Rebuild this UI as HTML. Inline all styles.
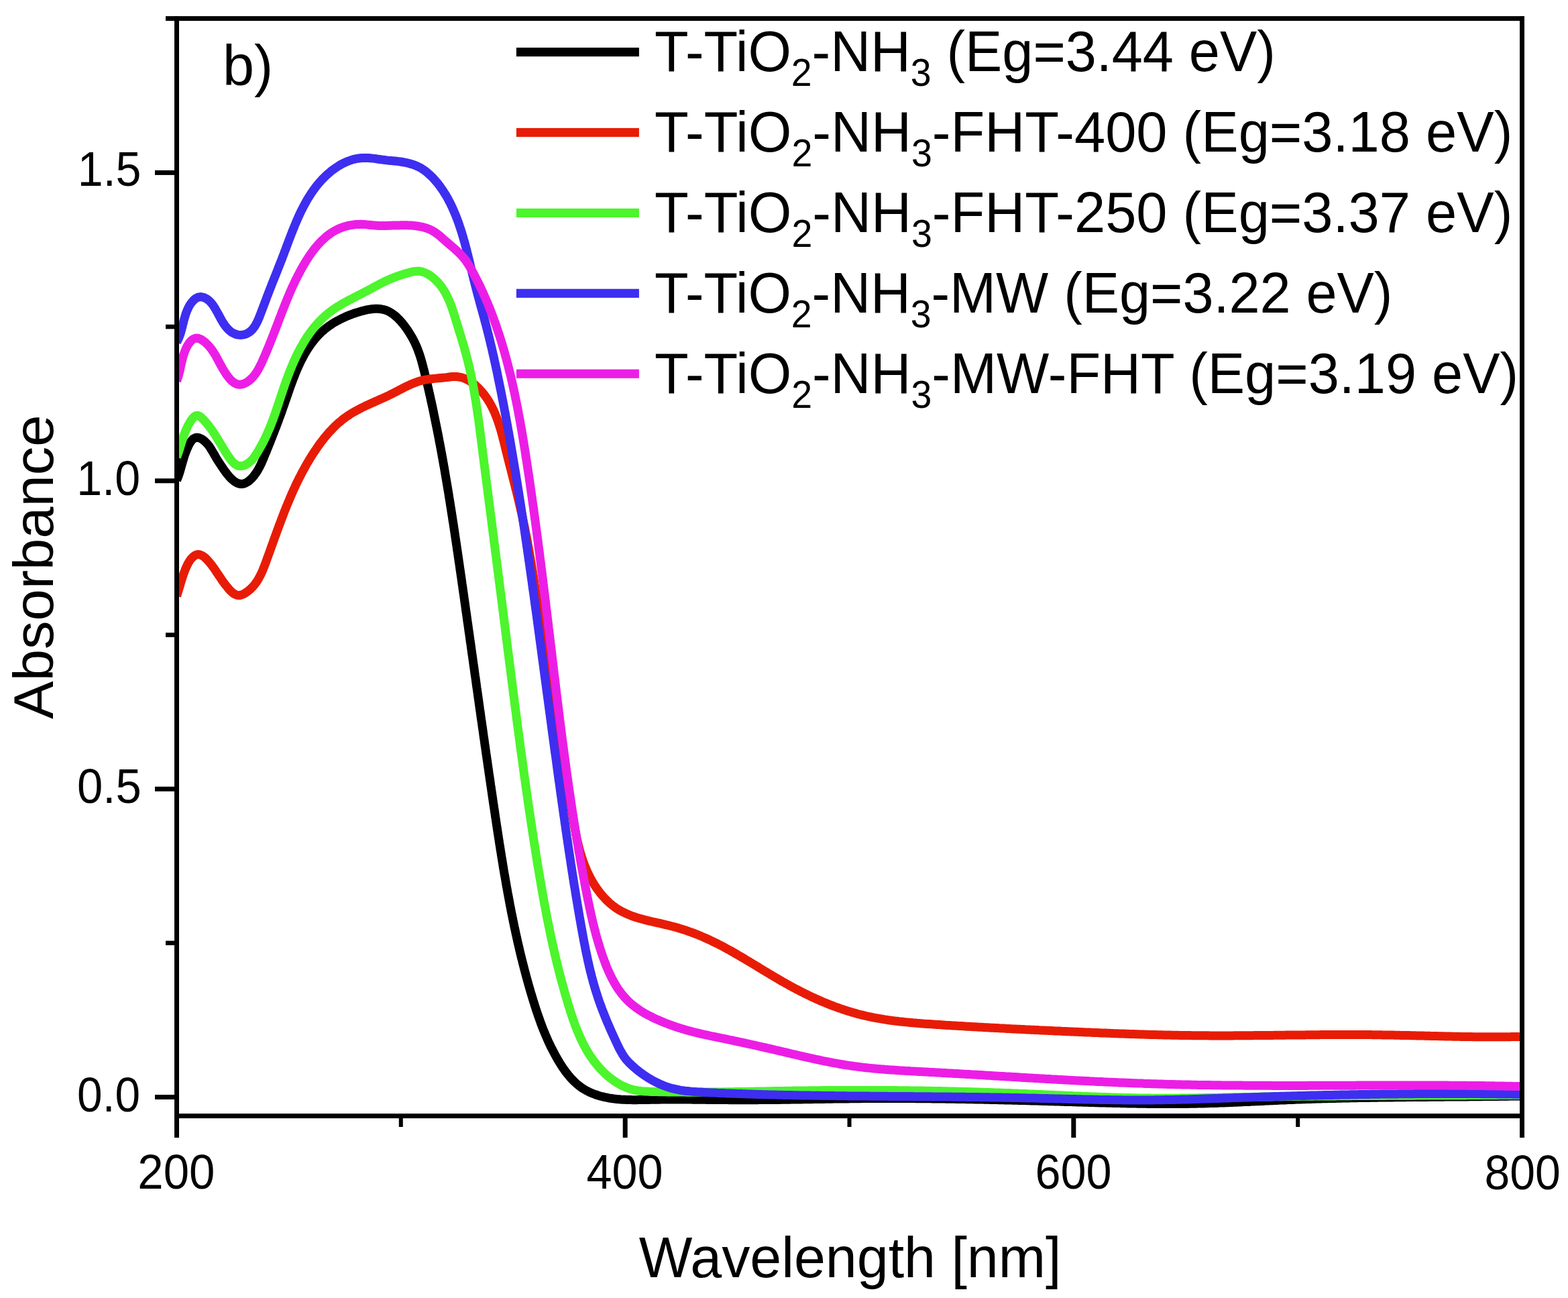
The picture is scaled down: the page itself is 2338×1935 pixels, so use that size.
<!DOCTYPE html>
<html><head><meta charset="utf-8"><title>Absorbance</title><style>
html,body{margin:0;padding:0;background:#fff;}
svg{display:block;}
text{font-family:"Liberation Sans",Arial,sans-serif;fill:#000;}
</style></head><body>
<svg width="2338" height="1935" viewBox="0 0 2338 1935">
<rect width="2338" height="1935" fill="#fff"/>
<defs><clipPath id="pc"><rect x="263.5" y="27.6" width="2006.0" height="1636.0"/></clipPath></defs>
<g clip-path="url(#pc)" fill="none" stroke-width="13" stroke-linejoin="round" stroke-linecap="butt">
<path stroke="#000000" d="M263.5,716.0 L264.7,713.2 L265.8,710.3 L266.8,707.5 L267.7,704.7 L268.6,701.8 L269.4,699.0 L270.2,696.1 L271.0,693.3 L271.8,690.5 L272.6,687.6 L273.5,684.7 L274.3,681.9 L275.2,679.0 L276.2,676.1 L277.3,673.3 L278.4,670.4 L279.7,667.5 L281.0,664.6 L282.5,661.7 L284.1,659.0 L285.9,656.6 L287.8,654.6 L290.0,653.2 L292.3,652.3 L294.8,652.3 L297.4,652.9 L300.1,654.1 L302.8,655.8 L305.3,657.8 L307.5,660.0 L309.6,662.3 L311.6,664.8 L313.4,667.4 L315.0,670.0 L316.6,672.7 L318.2,675.3 L319.7,678.0 L321.2,680.6 L322.7,683.2 L324.3,685.7 L325.8,688.1 L327.4,690.6 L329.0,693.0 L330.7,695.5 L332.3,697.9 L334.0,700.4 L335.7,702.8 L337.6,705.3 L339.5,707.7 L341.5,710.1 L343.7,712.5 L346.1,714.8 L348.5,716.8 L351.1,718.6 L353.7,720.1 L356.4,721.0 L359.0,721.5 L361.7,721.4 L364.3,720.8 L366.8,719.7 L369.3,718.3 L371.7,716.5 L374.0,714.4 L376.3,712.1 L378.4,709.6 L380.3,707.0 L382.2,704.4 L383.9,701.8 L385.4,699.1 L386.9,696.4 L388.3,693.6 L389.6,690.9 L390.8,688.1 L392.0,685.4 L393.2,682.6 L394.3,679.9 L395.4,677.1 L396.6,674.4 L397.7,671.6 L398.8,668.9 L399.9,666.2 L401.0,663.4 L402.1,660.7 L403.2,658.0 L404.3,655.2 L405.4,652.5 L406.4,649.7 L407.5,647.0 L408.6,644.3 L409.6,641.5 L410.7,638.8 L411.8,636.0 L412.8,633.3 L413.8,630.5 L414.9,627.7 L415.9,624.9 L416.9,622.1 L418.0,619.3 L419.0,616.5 L420.0,613.7 L421.0,610.9 L422.0,608.0 L423.0,605.2 L424.0,602.3 L425.0,599.4 L426.0,596.6 L427.0,593.7 L428.0,590.8 L429.0,587.9 L430.0,585.0 L431.0,582.1 L432.0,579.2 L433.0,576.3 L434.1,573.4 L435.1,570.6 L436.2,567.7 L437.3,564.8 L438.4,562.0 L439.5,559.1 L440.6,556.3 L441.8,553.5 L443.0,550.7 L444.2,547.9 L445.4,545.2 L446.7,542.4 L448.0,539.7 L449.3,537.0 L450.7,534.4 L452.1,531.7 L453.5,529.1 L455.0,526.5 L456.5,524.0 L458.0,521.5 L459.6,519.0 L461.2,516.6 L462.9,514.2 L464.6,511.8 L466.4,509.5 L468.2,507.2 L470.0,504.9 L471.9,502.7 L473.9,500.6 L475.9,498.5 L478.0,496.4 L480.1,494.4 L482.3,492.5 L484.6,490.6 L486.9,488.7 L489.3,486.9 L491.7,485.2 L494.2,483.5 L496.7,481.9 L499.3,480.3 L501.9,478.8 L504.6,477.4 L507.3,476.0 L510.1,474.6 L512.9,473.3 L515.7,472.0 L518.5,470.8 L521.4,469.7 L524.3,468.6 L527.2,467.5 L530.2,466.5 L533.1,465.6 L536.1,464.7 L539.1,463.8 L542.0,463.1 L545.0,462.3 L548.0,461.7 L551.0,461.2 L554.0,460.8 L556.9,460.5 L559.8,460.3 L562.7,460.3 L565.5,460.5 L568.4,460.8 L571.1,461.3 L573.8,462.0 L576.5,462.9 L579.1,464.1 L581.6,465.4 L584.1,467.0 L586.5,468.7 L588.9,470.5 L591.2,472.5 L593.4,474.6 L595.6,476.8 L597.7,479.1 L599.7,481.5 L601.7,483.9 L603.6,486.4 L605.5,489.0 L607.3,491.5 L609.0,494.1 L610.6,496.7 L612.2,499.2 L613.8,501.8 L615.2,504.4 L616.6,507.0 L617.9,509.6 L619.2,512.3 L620.4,515.0 L621.6,517.7 L622.7,520.4 L623.7,523.2 L624.7,526.0 L625.7,528.8 L626.6,531.6 L627.5,534.5 L628.3,537.3 L629.1,540.2 L629.9,543.1 L630.7,546.0 L631.4,548.9 L632.2,551.8 L632.9,554.7 L633.6,557.7 L634.3,560.6 L635.0,563.5 L635.7,566.4 L636.4,569.4 L637.1,572.3 L637.8,575.2 L638.4,578.1 L639.1,581.1 L639.8,584.0 L640.4,586.9 L641.1,589.8 L641.8,592.8 L642.4,595.7 L643.0,598.6 L643.7,601.6 L644.3,604.5 L645.0,607.5 L645.6,610.4 L646.2,613.3 L646.8,616.3 L647.4,619.2 L648.0,622.1 L648.6,625.1 L649.2,628.0 L649.8,631.0 L650.4,633.9 L651.0,636.8 L651.6,639.8 L652.2,642.7 L652.8,645.7 L653.3,648.6 L653.9,651.6 L654.5,654.5 L655.0,657.5 L655.6,660.4 L656.2,663.4 L656.7,666.3 L657.3,669.3 L657.8,672.2 L658.4,675.2 L658.9,678.1 L659.4,681.1 L660.0,684.0 L660.5,687.0 L661.0,689.9 L661.5,692.9 L662.1,695.8 L662.6,698.8 L663.1,701.7 L663.6,704.7 L664.1,707.7 L664.6,710.6 L665.1,713.6 L665.6,716.5 L666.1,719.5 L666.6,722.4 L667.1,725.4 L667.6,728.4 L668.1,731.3 L668.6,734.3 L669.1,737.2 L669.5,740.2 L670.0,743.2 L670.5,746.1 L671.0,749.1 L671.4,752.1 L671.9,755.0 L672.4,758.0 L672.8,760.9 L673.3,763.9 L673.8,766.9 L674.2,769.8 L674.7,772.8 L675.1,775.8 L675.6,778.7 L676.1,781.7 L676.5,784.7 L677.0,787.6 L677.4,790.6 L677.9,793.6 L678.3,796.5 L678.7,799.5 L679.2,802.5 L679.6,805.4 L680.1,808.4 L680.5,811.4 L681.0,814.3 L681.4,817.3 L681.8,820.3 L682.3,823.2 L682.7,826.2 L683.1,829.2 L683.6,832.1 L684.0,835.1 L684.4,838.1 L684.9,841.0 L685.3,844.0 L685.7,847.0 L686.1,849.9 L686.6,852.9 L687.0,855.9 L687.4,858.8 L687.9,861.8 L688.3,864.8 L688.7,867.7 L689.1,870.7 L689.6,873.7 L690.0,876.6 L690.4,879.6 L690.8,882.6 L691.3,885.5 L691.7,888.5 L692.1,891.5 L692.5,894.4 L692.9,897.4 L693.4,900.4 L693.8,903.4 L694.2,906.3 L694.6,909.3 L695.0,912.3 L695.5,915.2 L695.9,918.2 L696.3,921.2 L696.7,924.1 L697.1,927.1 L697.6,930.1 L698.0,933.0 L698.4,936.0 L698.8,939.0 L699.2,941.9 L699.7,944.9 L700.1,947.9 L700.5,950.8 L700.9,953.8 L701.3,956.8 L701.8,959.7 L702.2,962.7 L702.6,965.7 L703.0,968.6 L703.4,971.6 L703.8,974.6 L704.3,977.6 L704.7,980.5 L705.1,983.5 L705.5,986.5 L705.9,989.4 L706.3,992.4 L706.8,995.4 L707.2,998.3 L707.6,1001.3 L708.0,1004.3 L708.4,1007.2 L708.9,1010.2 L709.3,1013.2 L709.7,1016.1 L710.1,1019.1 L710.5,1022.1 L710.9,1025.0 L711.4,1028.0 L711.8,1031.0 L712.2,1033.9 L712.6,1036.9 L713.0,1039.9 L713.5,1042.9 L713.9,1045.8 L714.3,1048.8 L714.7,1051.8 L715.1,1054.7 L715.5,1057.7 L716.0,1060.7 L716.4,1063.6 L716.8,1066.6 L717.2,1069.6 L717.6,1072.5 L718.1,1075.5 L718.5,1078.5 L718.9,1081.4 L719.3,1084.4 L719.8,1087.4 L720.2,1090.4 L720.6,1093.3 L721.0,1096.3 L721.4,1099.3 L721.9,1102.2 L722.3,1105.2 L722.7,1108.2 L723.1,1111.1 L723.6,1114.1 L724.0,1117.1 L724.4,1120.1 L724.8,1123.0 L725.3,1126.0 L725.7,1129.0 L726.1,1131.9 L726.6,1134.9 L727.0,1137.9 L727.4,1140.8 L727.8,1143.8 L728.3,1146.8 L728.7,1149.7 L729.1,1152.7 L729.6,1155.7 L730.0,1158.7 L730.4,1161.6 L730.9,1164.6 L731.3,1167.6 L731.7,1170.5 L732.2,1173.5 L732.6,1176.5 L733.0,1179.5 L733.5,1182.4 L733.9,1185.4 L734.3,1188.4 L734.8,1191.3 L735.2,1194.3 L735.6,1197.3 L736.1,1200.2 L736.5,1203.2 L737.0,1206.2 L737.4,1209.2 L737.9,1212.1 L738.3,1215.1 L738.7,1218.1 L739.2,1221.0 L739.6,1224.0 L740.1,1227.0 L740.5,1230.0 L741.0,1232.9 L741.4,1235.9 L741.9,1238.9 L742.3,1241.8 L742.8,1244.8 L743.2,1247.8 L743.7,1250.8 L744.2,1253.7 L744.6,1256.7 L745.1,1259.7 L745.6,1262.6 L746.0,1265.6 L746.5,1268.6 L747.0,1271.5 L747.4,1274.5 L747.9,1277.5 L748.4,1280.4 L748.9,1283.4 L749.4,1286.4 L749.9,1289.3 L750.3,1292.3 L750.8,1295.2 L751.3,1298.2 L751.8,1301.2 L752.3,1304.1 L752.9,1307.1 L753.4,1310.0 L753.9,1313.0 L754.4,1316.0 L754.9,1318.9 L755.4,1321.9 L756.0,1324.8 L756.5,1327.8 L757.0,1330.7 L757.6,1333.7 L758.1,1336.6 L758.7,1339.6 L759.2,1342.5 L759.8,1345.5 L760.3,1348.4 L760.9,1351.4 L761.5,1354.3 L762.0,1357.3 L762.6,1360.2 L763.2,1363.1 L763.8,1366.1 L764.4,1369.0 L765.0,1372.0 L765.6,1374.9 L766.2,1377.8 L766.8,1380.8 L767.4,1383.7 L768.1,1386.6 L768.7,1389.5 L769.3,1392.5 L770.0,1395.4 L770.6,1398.3 L771.3,1401.2 L771.9,1404.2 L772.6,1407.1 L773.3,1410.0 L774.0,1412.9 L774.6,1415.8 L775.3,1418.7 L776.0,1421.6 L776.7,1424.6 L777.4,1427.5 L778.2,1430.4 L778.9,1433.3 L779.6,1436.2 L780.4,1439.1 L781.1,1442.0 L781.9,1444.9 L782.6,1447.8 L783.4,1450.6 L784.1,1453.5 L784.9,1456.4 L785.7,1459.3 L786.5,1462.2 L787.3,1465.1 L788.1,1468.0 L788.9,1470.8 L789.8,1473.7 L790.6,1476.6 L791.4,1479.4 L792.3,1482.3 L793.2,1485.2 L794.0,1488.0 L794.9,1490.9 L795.8,1493.8 L796.7,1496.6 L797.6,1499.5 L798.5,1502.3 L799.4,1505.2 L800.4,1508.0 L801.3,1510.8 L802.3,1513.7 L803.3,1516.5 L804.3,1519.3 L805.3,1522.1 L806.3,1525.0 L807.4,1527.8 L808.4,1530.6 L809.5,1533.4 L810.6,1536.1 L811.8,1538.9 L812.9,1541.7 L814.1,1544.5 L815.3,1547.2 L816.5,1550.0 L817.7,1552.7 L819.0,1555.4 L820.3,1558.1 L821.6,1560.9 L823.0,1563.6 L824.4,1566.3 L825.8,1568.9 L827.2,1571.6 L828.7,1574.3 L830.1,1576.9 L831.7,1579.6 L833.2,1582.2 L834.8,1584.8 L836.4,1587.4 L838.1,1590.0 L839.8,1592.5 L841.6,1595.0 L843.3,1597.5 L845.2,1599.9 L847.1,1602.3 L849.0,1604.6 L851.0,1606.9 L853.0,1609.1 L855.1,1611.3 L857.2,1613.3 L859.4,1615.3 L861.6,1617.2 L864.0,1619.1 L866.3,1620.8 L868.8,1622.5 L871.3,1624.0 L873.8,1625.5 L876.4,1626.9 L879.1,1628.2 L881.8,1629.4 L884.6,1630.5 L887.3,1631.5 L890.2,1632.5 L893.0,1633.4 L895.9,1634.2 L898.8,1634.9 L901.7,1635.6 L904.7,1636.2 L907.6,1636.8 L910.5,1637.3 L913.5,1637.7 L916.5,1638.1 L919.4,1638.5 L922.4,1638.7 L925.4,1639.0 L928.4,1639.2 L931.4,1639.3 L934.4,1639.5 L937.4,1639.6 L940.4,1639.6 L943.4,1639.7 L946.4,1639.7 L949.4,1639.7 L952.4,1639.6 L955.4,1639.6 L958.4,1639.6 L961.4,1639.5 L964.4,1639.5 L967.5,1639.4 L970.5,1639.3 L973.5,1639.3 L976.5,1639.2 L979.5,1639.2 L982.5,1639.2 L985.5,1639.1 L988.5,1639.1 L991.5,1639.1 L994.5,1639.1 L997.5,1639.1 L1000.6,1639.0 L1003.6,1639.0 L1006.6,1639.0 L1009.6,1639.0 L1012.6,1639.0 L1015.6,1639.1 L1018.6,1639.1 L1021.6,1639.1 L1024.6,1639.1 L1027.6,1639.1 L1030.6,1639.1 L1033.6,1639.2 L1036.6,1639.2 L1039.6,1639.2 L1042.6,1639.2 L1045.5,1639.3 L1048.5,1639.3 L1051.5,1639.3 L1054.5,1639.4 L1057.5,1639.4 L1060.5,1639.4 L1063.5,1639.4 L1066.5,1639.5 L1069.5,1639.5 L1072.5,1639.5 L1075.5,1639.6 L1078.5,1639.6 L1081.5,1639.6 L1084.5,1639.6 L1087.5,1639.7 L1090.5,1639.7 L1093.5,1639.7 L1096.5,1639.7 L1099.5,1639.7 L1102.5,1639.7 L1105.5,1639.7 L1108.5,1639.7 L1111.5,1639.7 L1114.4,1639.7 L1117.4,1639.7 L1120.4,1639.7 L1123.4,1639.7 L1126.4,1639.7 L1129.4,1639.7 L1132.4,1639.6 L1135.4,1639.6 L1138.4,1639.6 L1141.4,1639.6 L1144.4,1639.5 L1147.4,1639.5 L1150.4,1639.5 L1153.4,1639.5 L1156.4,1639.4 L1159.4,1639.4 L1162.4,1639.4 L1165.4,1639.3 L1168.4,1639.3 L1171.4,1639.2 L1174.4,1639.2 L1177.4,1639.2 L1180.4,1639.1 L1183.4,1639.1 L1186.4,1639.0 L1189.4,1639.0 L1192.4,1638.9 L1195.4,1638.9 L1198.4,1638.8 L1201.4,1638.8 L1204.4,1638.7 L1207.4,1638.7 L1210.4,1638.7 L1213.4,1638.6 L1216.4,1638.6 L1219.4,1638.5 L1222.4,1638.5 L1225.4,1638.4 L1228.4,1638.4 L1231.4,1638.3 L1234.4,1638.3 L1237.4,1638.2 L1240.4,1638.2 L1243.4,1638.1 L1246.4,1638.1 L1249.4,1638.1 L1252.4,1638.0 L1255.4,1638.0 L1258.4,1637.9 L1261.4,1637.9 L1264.4,1637.9 L1267.4,1637.8 L1270.4,1637.8 L1273.4,1637.8 L1276.4,1637.7 L1279.4,1637.7 L1282.4,1637.7 L1285.4,1637.6 L1288.4,1637.6 L1291.4,1637.6 L1294.4,1637.6 L1297.4,1637.6 L1300.4,1637.5 L1303.4,1637.5 L1306.4,1637.5 L1309.4,1637.5 L1312.4,1637.5 L1315.4,1637.5 L1318.4,1637.5 L1321.4,1637.5 L1324.4,1637.5 L1327.4,1637.5 L1330.4,1637.5 L1333.4,1637.5 L1336.4,1637.5 L1339.4,1637.5 L1342.4,1637.5 L1345.4,1637.5 L1348.4,1637.5 L1351.4,1637.6 L1354.4,1637.6 L1357.4,1637.6 L1360.4,1637.6 L1363.4,1637.6 L1366.4,1637.7 L1369.4,1637.7 L1372.4,1637.7 L1375.4,1637.7 L1378.4,1637.8 L1381.4,1637.8 L1384.4,1637.8 L1387.4,1637.8 L1390.4,1637.9 L1393.4,1637.9 L1396.4,1638.0 L1399.4,1638.0 L1402.4,1638.0 L1405.4,1638.1 L1408.4,1638.1 L1411.4,1638.2 L1414.4,1638.2 L1417.4,1638.2 L1420.4,1638.3 L1423.4,1638.3 L1426.4,1638.4 L1429.4,1638.4 L1432.4,1638.5 L1435.4,1638.5 L1438.4,1638.6 L1441.4,1638.7 L1444.4,1638.7 L1447.4,1638.8 L1450.4,1638.8 L1453.4,1638.9 L1456.4,1638.9 L1459.4,1639.0 L1462.4,1639.1 L1465.4,1639.1 L1468.4,1639.2 L1471.4,1639.3 L1474.4,1639.3 L1477.4,1639.4 L1480.4,1639.5 L1483.4,1639.5 L1486.4,1639.6 L1489.4,1639.7 L1492.4,1639.7 L1495.4,1639.8 L1498.4,1639.9 L1501.4,1640.0 L1504.4,1640.0 L1507.4,1640.1 L1510.4,1640.2 L1513.4,1640.3 L1516.4,1640.3 L1519.4,1640.4 L1522.4,1640.5 L1525.4,1640.6 L1528.4,1640.6 L1531.4,1640.7 L1534.4,1640.8 L1537.4,1640.9 L1540.4,1641.0 L1543.3,1641.1 L1546.3,1641.1 L1549.3,1641.2 L1552.3,1641.3 L1555.3,1641.4 L1558.3,1641.5 L1561.3,1641.6 L1564.3,1641.7 L1567.3,1641.7 L1570.3,1641.8 L1573.3,1641.9 L1576.3,1642.0 L1579.3,1642.1 L1582.3,1642.2 L1585.3,1642.3 L1588.3,1642.4 L1591.3,1642.4 L1594.3,1642.5 L1597.3,1642.6 L1600.3,1642.7 L1603.3,1642.8 L1606.3,1642.9 L1609.3,1643.0 L1612.3,1643.1 L1615.3,1643.2 L1618.3,1643.2 L1621.3,1643.3 L1624.3,1643.4 L1627.3,1643.5 L1630.3,1643.6 L1633.3,1643.7 L1636.3,1643.8 L1639.3,1643.9 L1642.3,1643.9 L1645.3,1644.0 L1648.3,1644.1 L1651.3,1644.2 L1654.3,1644.3 L1657.3,1644.3 L1660.3,1644.4 L1663.3,1644.5 L1666.3,1644.6 L1669.3,1644.6 L1672.3,1644.7 L1675.3,1644.8 L1678.3,1644.8 L1681.3,1644.9 L1684.3,1644.9 L1687.3,1645.0 L1690.3,1645.1 L1693.3,1645.1 L1696.3,1645.2 L1699.3,1645.2 L1702.3,1645.3 L1705.3,1645.3 L1708.3,1645.3 L1711.3,1645.4 L1714.3,1645.4 L1717.3,1645.4 L1720.3,1645.5 L1723.3,1645.5 L1726.3,1645.5 L1729.3,1645.5 L1732.3,1645.5 L1735.3,1645.6 L1738.2,1645.6 L1741.2,1645.6 L1744.2,1645.6 L1747.2,1645.6 L1750.2,1645.6 L1753.2,1645.5 L1756.2,1645.5 L1759.2,1645.5 L1762.2,1645.5 L1765.2,1645.5 L1768.2,1645.4 L1771.2,1645.4 L1774.2,1645.3 L1777.2,1645.3 L1780.2,1645.2 L1783.2,1645.2 L1786.2,1645.1 L1789.2,1645.0 L1792.2,1645.0 L1795.2,1644.9 L1798.2,1644.8 L1801.2,1644.7 L1804.2,1644.6 L1807.2,1644.5 L1810.2,1644.5 L1813.2,1644.4 L1816.2,1644.2 L1819.2,1644.1 L1822.2,1644.0 L1825.2,1643.9 L1828.2,1643.8 L1831.2,1643.7 L1834.2,1643.6 L1837.2,1643.4 L1840.2,1643.3 L1843.2,1643.2 L1846.2,1643.0 L1849.2,1642.9 L1852.2,1642.8 L1855.2,1642.6 L1858.2,1642.5 L1861.2,1642.4 L1864.2,1642.2 L1867.2,1642.1 L1870.2,1641.9 L1873.2,1641.8 L1876.2,1641.7 L1879.2,1641.5 L1882.1,1641.4 L1885.1,1641.2 L1888.1,1641.1 L1891.1,1641.0 L1894.1,1640.8 L1897.1,1640.7 L1900.1,1640.5 L1903.1,1640.4 L1906.1,1640.3 L1909.1,1640.1 L1912.1,1640.0 L1915.1,1639.9 L1918.1,1639.7 L1921.1,1639.6 L1924.1,1639.5 L1927.1,1639.4 L1930.1,1639.3 L1933.1,1639.1 L1936.1,1639.0 L1939.1,1638.9 L1942.1,1638.8 L1945.1,1638.7 L1948.1,1638.6 L1951.1,1638.5 L1954.1,1638.4 L1957.1,1638.3 L1960.1,1638.2 L1963.1,1638.1 L1966.1,1638.0 L1969.1,1637.9 L1972.1,1637.8 L1975.1,1637.8 L1978.1,1637.7 L1981.1,1637.6 L1984.1,1637.5 L1987.1,1637.4 L1990.1,1637.4 L1993.1,1637.3 L1996.1,1637.2 L1999.1,1637.2 L2002.1,1637.1 L2005.1,1637.0 L2008.1,1637.0 L2011.1,1636.9 L2014.1,1636.8 L2017.1,1636.8 L2020.1,1636.7 L2023.1,1636.7 L2026.1,1636.6 L2029.1,1636.6 L2032.1,1636.5 L2035.1,1636.5 L2038.1,1636.4 L2041.1,1636.4 L2044.1,1636.3 L2047.1,1636.3 L2050.1,1636.2 L2053.1,1636.2 L2056.1,1636.1 L2059.0,1636.1 L2062.0,1636.1 L2065.0,1636.0 L2068.0,1636.0 L2071.0,1635.9 L2074.0,1635.9 L2077.0,1635.9 L2080.0,1635.8 L2083.0,1635.8 L2086.0,1635.8 L2089.0,1635.7 L2092.0,1635.7 L2095.0,1635.7 L2098.0,1635.6 L2101.0,1635.6 L2104.0,1635.6 L2107.0,1635.6 L2110.0,1635.5 L2113.0,1635.5 L2116.0,1635.5 L2119.0,1635.4 L2122.0,1635.4 L2125.0,1635.4 L2128.0,1635.4 L2131.0,1635.3 L2134.0,1635.3 L2137.0,1635.3 L2140.0,1635.3 L2143.0,1635.2 L2146.0,1635.2 L2149.0,1635.2 L2152.0,1635.2 L2155.0,1635.1 L2158.0,1635.1 L2161.0,1635.1 L2164.0,1635.1 L2167.0,1635.0 L2170.0,1635.0 L2173.0,1635.0 L2176.0,1635.0 L2179.0,1634.9 L2182.0,1634.9 L2185.0,1634.9 L2188.0,1634.9 L2191.0,1634.8 L2194.0,1634.8 L2197.0,1634.8 L2200.0,1634.7 L2203.0,1634.7 L2206.0,1634.7 L2209.0,1634.7 L2212.0,1634.6 L2215.0,1634.6 L2218.0,1634.6 L2221.0,1634.5 L2224.0,1634.5 L2227.0,1634.5 L2230.0,1634.4 L2233.0,1634.4 L2236.0,1634.3 L2239.0,1634.3 L2242.0,1634.3 L2245.0,1634.2 L2248.0,1634.2 L2251.0,1634.1 L2254.0,1634.1 L2257.0,1634.0 L2260.0,1634.0 L2263.0,1634.0 L2266.0,1633.9"/>
<path stroke="#E81C06" d="M263.5,888.5 L264.5,885.5 L265.4,882.5 L266.3,879.6 L267.1,876.8 L268.0,874.0 L268.8,871.2 L269.6,868.4 L270.4,865.7 L271.3,862.9 L272.2,860.2 L273.1,857.4 L274.1,854.6 L275.2,851.7 L276.3,848.8 L277.6,845.9 L278.9,842.9 L280.4,840.0 L282.0,837.3 L283.7,834.7 L285.6,832.4 L287.6,830.3 L289.8,828.6 L292.3,827.3 L294.8,826.6 L297.4,826.8 L300.0,827.6 L302.6,829.0 L305.1,830.8 L307.4,832.9 L309.6,835.2 L311.7,837.6 L313.6,839.9 L315.5,842.3 L317.3,844.7 L319.0,847.1 L320.7,849.5 L322.3,851.9 L323.9,854.3 L325.5,856.7 L327.1,859.1 L328.8,861.5 L330.4,864.0 L332.1,866.4 L333.9,868.9 L335.7,871.3 L337.7,873.8 L339.7,876.3 L341.8,878.8 L344.1,881.1 L346.4,883.3 L348.8,885.1 L351.4,886.4 L354.0,887.3 L356.7,887.5 L359.5,887.0 L362.2,886.0 L365.0,884.5 L367.6,882.8 L370.1,881.0 L372.4,879.1 L374.6,877.1 L376.6,875.0 L378.6,872.7 L380.4,870.4 L382.1,868.1 L383.8,865.6 L385.3,863.1 L386.7,860.5 L388.1,857.9 L389.4,855.2 L390.7,852.5 L391.9,849.7 L393.0,846.9 L394.1,844.1 L395.2,841.3 L396.3,838.4 L397.3,835.6 L398.3,832.7 L399.4,829.9 L400.4,827.0 L401.4,824.2 L402.5,821.3 L403.5,818.5 L404.5,815.6 L405.5,812.8 L406.6,809.9 L407.6,807.1 L408.6,804.3 L409.6,801.4 L410.7,798.6 L411.7,795.8 L412.7,793.0 L413.7,790.1 L414.8,787.3 L415.8,784.5 L416.9,781.7 L417.9,778.9 L419.0,776.1 L420.0,773.3 L421.1,770.5 L422.2,767.7 L423.2,764.9 L424.3,762.1 L425.4,759.4 L426.5,756.6 L427.7,753.8 L428.8,751.1 L429.9,748.3 L431.1,745.6 L432.2,742.8 L433.4,740.1 L434.6,737.4 L435.8,734.6 L437.0,731.9 L438.2,729.2 L439.5,726.5 L440.7,723.8 L442.0,721.1 L443.3,718.4 L444.6,715.8 L445.9,713.1 L447.3,710.4 L448.7,707.8 L450.0,705.1 L451.4,702.5 L452.9,699.9 L454.3,697.3 L455.8,694.6 L457.2,692.0 L458.7,689.5 L460.3,686.9 L461.8,684.3 L463.4,681.7 L465.0,679.2 L466.6,676.6 L468.3,674.1 L470.0,671.6 L471.7,669.1 L473.4,666.6 L475.1,664.1 L476.9,661.6 L478.7,659.2 L480.6,656.8 L482.4,654.4 L484.3,652.0 L486.3,649.7 L488.2,647.4 L490.2,645.1 L492.2,642.9 L494.3,640.7 L496.4,638.5 L498.5,636.4 L500.6,634.3 L502.8,632.3 L505.0,630.3 L507.3,628.4 L509.6,626.5 L511.9,624.6 L514.3,622.9 L516.7,621.1 L519.1,619.5 L521.6,617.8 L524.1,616.3 L526.6,614.8 L529.2,613.3 L531.7,611.9 L534.4,610.5 L537.0,609.1 L539.6,607.8 L542.3,606.5 L545.0,605.2 L547.7,603.9 L550.4,602.7 L553.2,601.4 L555.9,600.2 L558.6,599.0 L561.4,597.8 L564.1,596.5 L566.9,595.3 L569.6,594.1 L572.4,592.8 L575.1,591.6 L577.9,590.3 L580.6,589.0 L583.3,587.7 L586.0,586.3 L588.7,584.9 L591.4,583.6 L594.1,582.1 L596.8,580.7 L599.4,579.4 L602.1,578.0 L604.8,576.6 L607.5,575.3 L610.2,574.1 L612.9,572.8 L615.6,571.7 L618.4,570.6 L621.2,569.6 L624.0,568.6 L626.8,567.8 L629.7,567.1 L632.5,566.4 L635.5,565.9 L638.4,565.4 L641.4,565.0 L644.4,564.7 L647.4,564.4 L650.4,564.1 L653.4,563.8 L656.5,563.5 L659.5,563.2 L662.6,562.9 L665.6,562.6 L668.7,562.2 L671.7,561.8 L674.7,561.6 L677.7,561.5 L680.7,561.5 L683.6,561.8 L686.4,562.3 L689.3,563.0 L692.0,564.0 L694.7,565.1 L697.4,566.4 L700.0,567.9 L702.5,569.5 L705.0,571.2 L707.4,573.1 L709.8,575.1 L712.0,577.2 L714.2,579.3 L716.3,581.6 L718.4,583.9 L720.3,586.2 L722.2,588.6 L724.0,591.0 L725.7,593.4 L727.4,595.9 L729.0,598.5 L730.5,601.0 L731.9,603.6 L733.3,606.2 L734.6,608.9 L735.9,611.5 L737.1,614.2 L738.3,617.0 L739.4,619.7 L740.5,622.5 L741.5,625.3 L742.5,628.1 L743.5,630.9 L744.4,633.7 L745.3,636.6 L746.2,639.5 L747.0,642.3 L747.8,645.2 L748.6,648.1 L749.4,651.0 L750.1,654.0 L750.9,656.9 L751.6,659.8 L752.3,662.7 L753.1,665.7 L753.8,668.6 L754.5,671.5 L755.2,674.4 L756.0,677.4 L756.7,680.3 L757.4,683.2 L758.2,686.1 L758.9,689.0 L759.6,691.9 L760.4,694.8 L761.1,697.7 L761.9,700.6 L762.6,703.6 L763.4,706.5 L764.1,709.4 L764.8,712.3 L765.6,715.1 L766.3,718.0 L767.1,720.9 L767.8,723.8 L768.5,726.7 L769.2,729.6 L770.0,732.5 L770.7,735.4 L771.4,738.3 L772.1,741.2 L772.8,744.1 L773.5,747.0 L774.2,749.9 L774.9,752.9 L775.6,755.8 L776.2,758.7 L776.9,761.6 L777.6,764.5 L778.2,767.4 L778.9,770.3 L779.5,773.2 L780.1,776.2 L780.7,779.1 L781.4,782.0 L782.0,785.0 L782.6,787.9 L783.1,790.8 L783.7,793.7 L784.3,796.7 L784.9,799.6 L785.5,802.6 L786.0,805.5 L786.6,808.4 L787.1,811.4 L787.7,814.3 L788.2,817.3 L788.7,820.2 L789.3,823.2 L789.8,826.1 L790.3,829.1 L790.8,832.0 L791.3,835.0 L791.8,838.0 L792.3,840.9 L792.8,843.9 L793.3,846.8 L793.8,849.8 L794.3,852.7 L794.7,855.7 L795.2,858.7 L795.7,861.6 L796.1,864.6 L796.6,867.6 L797.0,870.5 L797.5,873.5 L798.0,876.5 L798.4,879.4 L798.8,882.4 L799.3,885.4 L799.7,888.4 L800.2,891.3 L800.6,894.3 L801.0,897.3 L801.5,900.2 L801.9,903.2 L802.3,906.2 L802.7,909.2 L803.1,912.1 L803.6,915.1 L804.0,918.1 L804.4,921.1 L804.8,924.0 L805.2,927.0 L805.6,930.0 L806.1,932.9 L806.5,935.9 L806.9,938.9 L807.3,941.9 L807.7,944.8 L808.1,947.8 L808.5,950.8 L808.9,953.7 L809.3,956.7 L809.7,959.7 L810.1,962.7 L810.6,965.6 L811.0,968.6 L811.4,971.6 L811.8,974.5 L812.2,977.5 L812.6,980.5 L813.0,983.5 L813.4,986.4 L813.8,989.4 L814.3,992.4 L814.7,995.3 L815.1,998.3 L815.5,1001.3 L815.9,1004.2 L816.4,1007.2 L816.8,1010.2 L817.2,1013.1 L817.6,1016.1 L818.1,1019.0 L818.5,1022.0 L818.9,1025.0 L819.4,1027.9 L819.8,1030.9 L820.3,1033.9 L820.7,1036.8 L821.2,1039.8 L821.6,1042.7 L822.1,1045.7 L822.5,1048.7 L823.0,1051.6 L823.5,1054.6 L823.9,1057.5 L824.4,1060.5 L824.9,1063.4 L825.4,1066.4 L825.9,1069.3 L826.4,1072.3 L826.9,1075.2 L827.4,1078.2 L827.9,1081.1 L828.4,1084.1 L828.9,1087.0 L829.4,1090.0 L829.9,1092.9 L830.5,1095.9 L831.0,1098.8 L831.5,1101.8 L832.1,1104.7 L832.6,1107.6 L833.2,1110.6 L833.8,1113.5 L834.3,1116.5 L834.9,1119.4 L835.5,1122.3 L836.1,1125.3 L836.7,1128.2 L837.3,1131.1 L837.9,1134.1 L838.5,1137.0 L839.1,1139.9 L839.7,1142.9 L840.3,1145.8 L841.0,1148.7 L841.6,1151.6 L842.2,1154.6 L842.8,1157.5 L843.5,1160.4 L844.1,1163.4 L844.7,1166.3 L845.3,1169.2 L845.9,1172.2 L846.5,1175.1 L847.1,1178.0 L847.7,1181.0 L848.3,1183.9 L848.8,1186.9 L849.4,1189.8 L849.9,1192.7 L850.5,1195.7 L851.0,1198.6 L851.5,1201.6 L852.0,1204.5 L852.5,1207.5 L853.0,1210.5 L853.5,1213.4 L854.0,1216.4 L854.4,1219.3 L854.9,1222.3 L855.4,1225.2 L855.9,1228.2 L856.4,1231.1 L857.0,1234.1 L857.5,1237.0 L858.1,1240.0 L858.6,1242.9 L859.2,1245.8 L859.8,1248.8 L860.4,1251.7 L861.1,1254.6 L861.8,1257.5 L862.5,1260.4 L863.2,1263.3 L864.0,1266.2 L864.8,1269.1 L865.6,1272.0 L866.5,1274.8 L867.3,1277.7 L868.3,1280.5 L869.3,1283.4 L870.3,1286.2 L871.3,1289.0 L872.4,1291.8 L873.6,1294.6 L874.8,1297.3 L876.0,1300.1 L877.3,1302.8 L878.6,1305.6 L880.0,1308.3 L881.5,1310.9 L883.0,1313.6 L884.5,1316.2 L886.1,1318.8 L887.8,1321.3 L889.5,1323.9 L891.2,1326.3 L893.0,1328.8 L894.8,1331.2 L896.7,1333.5 L898.7,1335.8 L900.7,1338.0 L902.7,1340.2 L904.8,1342.3 L906.9,1344.3 L909.1,1346.3 L911.3,1348.2 L913.6,1350.0 L916.0,1351.8 L918.3,1353.5 L920.8,1355.1 L923.3,1356.6 L925.8,1358.1 L928.3,1359.4 L931.0,1360.7 L933.6,1361.9 L936.3,1363.1 L939.0,1364.2 L941.8,1365.3 L944.6,1366.3 L947.4,1367.2 L950.2,1368.1 L953.1,1369.0 L956.0,1369.8 L958.9,1370.6 L961.8,1371.4 L964.7,1372.1 L967.7,1372.8 L970.7,1373.5 L973.6,1374.2 L976.6,1374.9 L979.6,1375.6 L982.6,1376.2 L985.6,1376.9 L988.6,1377.6 L991.6,1378.3 L994.5,1379.0 L997.5,1379.7 L1000.5,1380.5 L1003.4,1381.2 L1006.4,1382.0 L1009.3,1382.8 L1012.2,1383.7 L1015.1,1384.6 L1018.0,1385.5 L1020.8,1386.4 L1023.7,1387.3 L1026.5,1388.3 L1029.3,1389.3 L1032.2,1390.4 L1035.0,1391.4 L1037.8,1392.5 L1040.5,1393.6 L1043.3,1394.7 L1046.1,1395.9 L1048.8,1397.1 L1051.5,1398.3 L1054.3,1399.5 L1057.0,1400.7 L1059.7,1402.0 L1062.4,1403.3 L1065.0,1404.6 L1067.7,1405.9 L1070.4,1407.2 L1073.0,1408.6 L1075.7,1409.9 L1078.3,1411.3 L1080.9,1412.7 L1083.6,1414.2 L1086.2,1415.6 L1088.8,1417.0 L1091.4,1418.5 L1094.0,1420.0 L1096.6,1421.5 L1099.2,1423.0 L1101.7,1424.5 L1104.3,1426.0 L1106.9,1427.5 L1109.5,1429.0 L1112.0,1430.6 L1114.6,1432.1 L1117.2,1433.6 L1119.8,1435.2 L1122.3,1436.7 L1124.9,1438.3 L1127.4,1439.8 L1130.0,1441.4 L1132.6,1443.0 L1135.1,1444.5 L1137.7,1446.1 L1140.3,1447.6 L1142.8,1449.2 L1145.4,1450.7 L1148.0,1452.3 L1150.6,1453.8 L1153.1,1455.4 L1155.7,1456.9 L1158.3,1458.4 L1160.9,1459.9 L1163.5,1461.5 L1166.1,1463.0 L1168.7,1464.4 L1171.3,1465.9 L1174.0,1467.4 L1176.6,1468.8 L1179.2,1470.3 L1181.9,1471.7 L1184.5,1473.1 L1187.2,1474.6 L1189.8,1475.9 L1192.5,1477.3 L1195.2,1478.7 L1197.9,1480.0 L1200.6,1481.4 L1203.3,1482.7 L1206.0,1484.0 L1208.7,1485.3 L1211.4,1486.6 L1214.1,1487.8 L1216.9,1489.1 L1219.6,1490.3 L1222.3,1491.5 L1225.1,1492.7 L1227.9,1493.9 L1230.6,1495.0 L1233.4,1496.1 L1236.2,1497.3 L1238.9,1498.4 L1241.7,1499.4 L1244.5,1500.5 L1247.3,1501.5 L1250.2,1502.5 L1253.0,1503.5 L1255.8,1504.5 L1258.6,1505.4 L1261.5,1506.4 L1264.3,1507.3 L1267.2,1508.1 L1270.0,1509.0 L1272.9,1509.8 L1275.7,1510.6 L1278.6,1511.4 L1281.5,1512.2 L1284.4,1512.9 L1287.3,1513.6 L1290.2,1514.3 L1293.1,1515.0 L1296.0,1515.6 L1298.9,1516.2 L1301.9,1516.8 L1304.8,1517.4 L1307.7,1517.9 L1310.7,1518.4 L1313.6,1518.9 L1316.6,1519.4 L1319.5,1519.9 L1322.5,1520.3 L1325.4,1520.8 L1328.4,1521.2 L1331.4,1521.6 L1334.4,1522.0 L1337.3,1522.3 L1340.3,1522.7 L1343.3,1523.0 L1346.3,1523.3 L1349.3,1523.6 L1352.3,1523.9 L1355.3,1524.2 L1358.3,1524.5 L1361.3,1524.8 L1364.3,1525.0 L1367.3,1525.3 L1370.3,1525.5 L1373.3,1525.7 L1376.3,1526.0 L1379.3,1526.2 L1382.3,1526.4 L1385.3,1526.6 L1388.3,1526.8 L1391.3,1527.0 L1394.3,1527.2 L1397.3,1527.4 L1400.3,1527.6 L1403.3,1527.8 L1406.3,1528.0 L1409.3,1528.2 L1412.3,1528.4 L1415.3,1528.5 L1418.3,1528.7 L1421.3,1528.9 L1424.3,1529.1 L1427.3,1529.3 L1430.3,1529.4 L1433.3,1529.6 L1436.3,1529.8 L1439.3,1530.0 L1442.3,1530.2 L1445.3,1530.3 L1448.3,1530.5 L1451.3,1530.7 L1454.3,1530.8 L1457.3,1531.0 L1460.3,1531.2 L1463.3,1531.3 L1466.2,1531.5 L1469.2,1531.7 L1472.2,1531.8 L1475.2,1532.0 L1478.2,1532.2 L1481.2,1532.3 L1484.2,1532.5 L1487.2,1532.6 L1490.2,1532.8 L1493.1,1532.9 L1496.1,1533.1 L1499.1,1533.3 L1502.1,1533.4 L1505.1,1533.6 L1508.1,1533.7 L1511.1,1533.9 L1514.0,1534.0 L1517.0,1534.2 L1520.0,1534.3 L1523.0,1534.5 L1526.0,1534.6 L1529.0,1534.8 L1532.0,1534.9 L1534.9,1535.0 L1537.9,1535.2 L1540.9,1535.3 L1543.9,1535.5 L1546.9,1535.6 L1549.9,1535.8 L1552.9,1535.9 L1555.8,1536.0 L1558.8,1536.2 L1561.8,1536.3 L1564.8,1536.5 L1567.8,1536.6 L1570.8,1536.7 L1573.8,1536.9 L1576.8,1537.0 L1579.7,1537.1 L1582.7,1537.3 L1585.7,1537.4 L1588.7,1537.5 L1591.7,1537.7 L1594.7,1537.8 L1597.7,1537.9 L1600.7,1538.1 L1603.7,1538.2 L1606.7,1538.3 L1609.6,1538.5 L1612.6,1538.6 L1615.6,1538.7 L1618.6,1538.9 L1621.6,1539.0 L1624.6,1539.1 L1627.6,1539.2 L1630.6,1539.4 L1633.6,1539.5 L1636.6,1539.6 L1639.6,1539.7 L1642.6,1539.9 L1645.6,1540.0 L1648.6,1540.1 L1651.6,1540.2 L1654.6,1540.3 L1657.6,1540.4 L1660.5,1540.6 L1663.5,1540.7 L1666.5,1540.8 L1669.5,1540.9 L1672.5,1541.0 L1675.5,1541.1 L1678.5,1541.2 L1681.5,1541.3 L1684.5,1541.4 L1687.5,1541.5 L1690.5,1541.6 L1693.5,1541.7 L1696.5,1541.8 L1699.5,1541.9 L1702.5,1542.0 L1705.5,1542.1 L1708.5,1542.2 L1711.5,1542.3 L1714.5,1542.4 L1717.5,1542.4 L1720.5,1542.5 L1723.5,1542.6 L1726.5,1542.7 L1729.5,1542.8 L1732.5,1542.8 L1735.5,1542.9 L1738.5,1543.0 L1741.5,1543.0 L1744.5,1543.1 L1747.5,1543.2 L1750.5,1543.2 L1753.5,1543.3 L1756.5,1543.3 L1759.5,1543.4 L1762.5,1543.4 L1765.5,1543.5 L1768.5,1543.5 L1771.5,1543.6 L1774.5,1543.6 L1777.5,1543.7 L1780.5,1543.7 L1783.5,1543.7 L1786.5,1543.7 L1789.5,1543.8 L1792.5,1543.8 L1795.5,1543.8 L1798.5,1543.8 L1801.5,1543.8 L1804.5,1543.9 L1807.5,1543.9 L1810.5,1543.9 L1813.5,1543.9 L1816.5,1543.9 L1819.5,1543.9 L1822.5,1543.9 L1825.5,1543.9 L1828.5,1543.9 L1831.5,1543.9 L1834.5,1543.9 L1837.4,1543.9 L1840.4,1543.8 L1843.4,1543.8 L1846.4,1543.8 L1849.4,1543.8 L1852.4,1543.8 L1855.4,1543.8 L1858.4,1543.7 L1861.4,1543.7 L1864.4,1543.7 L1867.4,1543.7 L1870.4,1543.6 L1873.4,1543.6 L1876.4,1543.6 L1879.4,1543.6 L1882.4,1543.5 L1885.4,1543.5 L1888.4,1543.5 L1891.4,1543.4 L1894.4,1543.4 L1897.4,1543.4 L1900.4,1543.3 L1903.4,1543.3 L1906.4,1543.3 L1909.4,1543.2 L1912.4,1543.2 L1915.4,1543.2 L1918.3,1543.1 L1921.3,1543.1 L1924.3,1543.1 L1927.3,1543.0 L1930.3,1543.0 L1933.3,1543.0 L1936.3,1543.0 L1939.3,1542.9 L1942.3,1542.9 L1945.3,1542.9 L1948.3,1542.8 L1951.3,1542.8 L1954.3,1542.8 L1957.3,1542.7 L1960.3,1542.7 L1963.3,1542.7 L1966.3,1542.7 L1969.3,1542.6 L1972.3,1542.6 L1975.3,1542.6 L1978.3,1542.6 L1981.3,1542.6 L1984.3,1542.6 L1987.2,1542.5 L1990.2,1542.5 L1993.2,1542.5 L1996.2,1542.5 L1999.2,1542.5 L2002.2,1542.5 L2005.2,1542.5 L2008.2,1542.5 L2011.2,1542.5 L2014.2,1542.5 L2017.2,1542.5 L2020.2,1542.5 L2023.2,1542.5 L2026.2,1542.5 L2029.2,1542.5 L2032.2,1542.5 L2035.2,1542.6 L2038.2,1542.6 L2041.2,1542.6 L2044.2,1542.6 L2047.2,1542.7 L2050.2,1542.7 L2053.2,1542.7 L2056.2,1542.8 L2059.2,1542.8 L2062.2,1542.9 L2065.2,1542.9 L2068.2,1542.9 L2071.2,1543.0 L2074.2,1543.1 L2077.2,1543.1 L2080.2,1543.2 L2083.2,1543.2 L2086.2,1543.3 L2089.1,1543.4 L2092.1,1543.4 L2095.1,1543.5 L2098.1,1543.6 L2101.1,1543.6 L2104.1,1543.7 L2107.1,1543.8 L2110.1,1543.8 L2113.1,1543.9 L2116.1,1544.0 L2119.1,1544.1 L2122.1,1544.1 L2125.1,1544.2 L2128.1,1544.3 L2131.1,1544.3 L2134.1,1544.4 L2137.1,1544.5 L2140.1,1544.6 L2143.1,1544.6 L2146.1,1544.7 L2149.1,1544.8 L2152.1,1544.8 L2155.1,1544.9 L2158.1,1545.0 L2161.1,1545.0 L2164.1,1545.1 L2167.1,1545.2 L2170.1,1545.2 L2173.1,1545.3 L2176.1,1545.3 L2179.1,1545.4 L2182.1,1545.4 L2185.1,1545.5 L2188.1,1545.5 L2191.1,1545.6 L2194.1,1545.6 L2197.1,1545.7 L2200.1,1545.7 L2203.1,1545.7 L2206.1,1545.8 L2209.1,1545.8 L2212.1,1545.8 L2215.1,1545.8 L2218.1,1545.8 L2221.1,1545.8 L2224.1,1545.8 L2227.1,1545.8 L2230.1,1545.8 L2233.1,1545.8 L2236.0,1545.8 L2239.0,1545.8 L2242.0,1545.8 L2245.0,1545.7 L2248.0,1545.7 L2251.0,1545.7 L2254.0,1545.6 L2257.0,1545.6 L2260.0,1545.5 L2263.0,1545.5 L2266.0,1545.4"/>
<path stroke="#4CF52C" d="M263.5,681.5 L264.5,678.8 L265.5,676.0 L266.5,673.2 L267.4,670.4 L268.3,667.5 L269.1,664.7 L270.0,661.8 L270.9,658.9 L271.8,656.1 L272.8,653.2 L273.7,650.3 L274.8,647.4 L275.9,644.5 L277.0,641.7 L278.3,638.9 L279.6,636.1 L281.0,633.3 L282.6,630.6 L284.2,627.9 L286.0,625.2 L287.9,622.8 L290.0,620.9 L292.1,619.7 L294.3,619.4 L296.6,620.0 L298.9,621.4 L301.2,623.4 L303.5,625.7 L305.7,628.1 L307.8,630.5 L309.7,632.9 L311.7,635.4 L313.5,637.8 L315.3,640.2 L317.0,642.7 L318.6,645.1 L320.2,647.6 L321.8,650.1 L323.4,652.6 L324.9,655.1 L326.4,657.6 L327.9,660.1 L329.5,662.7 L331.0,665.2 L332.6,667.8 L334.2,670.4 L335.8,673.0 L337.5,675.7 L339.2,678.4 L341.0,681.1 L342.9,683.7 L344.8,686.2 L346.9,688.6 L349.0,690.6 L351.2,692.4 L353.6,693.7 L356.1,694.5 L358.6,694.8 L361.3,694.5 L364.1,693.8 L366.8,692.5 L369.4,691.0 L371.9,689.1 L374.2,687.1 L376.3,684.9 L378.3,682.5 L380.1,680.0 L381.8,677.5 L383.5,674.9 L385.1,672.2 L386.6,669.6 L388.1,666.9 L389.6,664.3 L391.1,661.6 L392.5,658.9 L393.8,656.2 L395.2,653.5 L396.5,650.8 L397.7,648.1 L398.9,645.3 L400.1,642.6 L401.3,639.9 L402.5,637.1 L403.6,634.4 L404.7,631.6 L405.7,628.8 L406.8,626.1 L407.8,623.3 L408.8,620.5 L409.8,617.7 L410.8,614.9 L411.7,612.1 L412.7,609.3 L413.6,606.5 L414.6,603.7 L415.5,600.9 L416.4,598.0 L417.4,595.2 L418.3,592.4 L419.2,589.6 L420.2,586.7 L421.1,583.9 L422.1,581.0 L423.1,578.2 L424.0,575.4 L425.0,572.5 L426.0,569.7 L427.1,566.8 L428.1,564.0 L429.2,561.1 L430.2,558.3 L431.3,555.5 L432.4,552.6 L433.6,549.8 L434.7,547.0 L435.9,544.2 L437.1,541.4 L438.3,538.6 L439.6,535.9 L440.9,533.1 L442.2,530.4 L443.5,527.6 L444.8,524.9 L446.2,522.3 L447.6,519.6 L449.1,517.0 L450.6,514.3 L452.1,511.7 L453.6,509.2 L455.2,506.6 L456.8,504.1 L458.4,501.6 L460.1,499.2 L461.8,496.7 L463.6,494.3 L465.3,492.0 L467.2,489.6 L469.0,487.4 L470.9,485.1 L472.9,482.9 L474.9,480.7 L476.9,478.6 L479.0,476.5 L481.1,474.4 L483.2,472.4 L485.4,470.4 L487.7,468.5 L490.0,466.6 L492.4,464.8 L494.8,463.0 L497.2,461.3 L499.7,459.6 L502.2,457.9 L504.8,456.3 L507.4,454.8 L510.0,453.2 L512.6,451.7 L515.3,450.2 L518.0,448.8 L520.7,447.3 L523.4,445.9 L526.1,444.5 L528.8,443.1 L531.5,441.7 L534.2,440.3 L536.9,438.9 L539.6,437.6 L542.3,436.2 L544.9,434.8 L547.6,433.4 L550.2,432.0 L552.8,430.6 L555.4,429.2 L558.0,427.8 L560.6,426.4 L563.2,425.0 L565.8,423.6 L568.4,422.3 L571.0,421.0 L573.7,419.7 L576.4,418.4 L579.1,417.2 L581.9,416.0 L584.7,414.8 L587.5,413.7 L590.3,412.6 L593.2,411.6 L596.1,410.6 L599.0,409.6 L601.9,408.7 L604.8,407.8 L607.7,407.0 L610.6,406.2 L613.5,405.4 L616.4,404.8 L619.3,404.4 L622.2,404.2 L625.1,404.3 L627.9,404.7 L630.8,405.5 L633.6,406.5 L636.3,407.8 L639.0,409.2 L641.6,410.9 L644.1,412.7 L646.5,414.7 L648.8,416.8 L651.0,418.9 L653.1,421.1 L655.1,423.4 L657.0,425.7 L658.7,428.1 L660.4,430.6 L662.0,433.0 L663.5,435.6 L665.0,438.2 L666.3,440.8 L667.6,443.5 L668.9,446.2 L670.0,448.9 L671.2,451.6 L672.2,454.4 L673.3,457.2 L674.3,460.1 L675.2,462.9 L676.2,465.8 L677.1,468.6 L678.0,471.5 L678.9,474.4 L679.8,477.3 L680.7,480.2 L681.6,483.1 L682.5,485.9 L683.3,488.8 L684.2,491.7 L685.1,494.6 L686.0,497.5 L686.9,500.3 L687.8,503.2 L688.6,506.1 L689.5,509.0 L690.3,511.8 L691.2,514.7 L692.0,517.6 L692.8,520.5 L693.6,523.4 L694.4,526.3 L695.2,529.1 L696.0,532.0 L696.7,534.9 L697.5,537.8 L698.2,540.8 L698.9,543.7 L699.6,546.6 L700.2,549.5 L700.9,552.4 L701.5,555.3 L702.2,558.3 L702.8,561.2 L703.4,564.1 L704.0,567.1 L704.5,570.0 L705.1,572.9 L705.6,575.9 L706.2,578.8 L706.7,581.8 L707.2,584.7 L707.7,587.7 L708.2,590.6 L708.7,593.6 L709.2,596.5 L709.7,599.5 L710.1,602.5 L710.6,605.4 L711.0,608.4 L711.5,611.4 L711.9,614.3 L712.3,617.3 L712.7,620.3 L713.2,623.2 L713.6,626.2 L714.0,629.2 L714.4,632.2 L714.8,635.1 L715.2,638.1 L715.6,641.1 L715.9,644.1 L716.3,647.0 L716.7,650.0 L717.1,653.0 L717.5,656.0 L717.8,659.0 L718.2,661.9 L718.6,664.9 L719.0,667.9 L719.4,670.9 L719.7,673.8 L720.1,676.8 L720.5,679.8 L720.9,682.8 L721.3,685.7 L721.6,688.7 L722.0,691.7 L722.4,694.7 L722.8,697.6 L723.2,700.6 L723.5,703.6 L723.9,706.6 L724.3,709.5 L724.7,712.5 L725.1,715.5 L725.4,718.5 L725.8,721.4 L726.2,724.4 L726.6,727.4 L727.0,730.4 L727.3,733.3 L727.7,736.3 L728.1,739.3 L728.5,742.2 L728.9,745.2 L729.2,748.2 L729.6,751.2 L730.0,754.1 L730.4,757.1 L730.8,760.1 L731.1,763.0 L731.5,766.0 L731.9,769.0 L732.3,772.0 L732.7,774.9 L733.0,777.9 L733.4,780.9 L733.8,783.8 L734.2,786.8 L734.6,789.8 L734.9,792.8 L735.3,795.7 L735.7,798.7 L736.1,801.7 L736.4,804.6 L736.8,807.6 L737.2,810.6 L737.6,813.5 L738.0,816.5 L738.3,819.5 L738.7,822.5 L739.1,825.4 L739.5,828.4 L739.9,831.4 L740.2,834.3 L740.6,837.3 L741.0,840.3 L741.4,843.3 L741.8,846.2 L742.1,849.2 L742.5,852.2 L742.9,855.1 L743.3,858.1 L743.7,861.1 L744.0,864.1 L744.4,867.0 L744.8,870.0 L745.2,873.0 L745.5,875.9 L745.9,878.9 L746.3,881.9 L746.7,884.9 L747.1,887.8 L747.4,890.8 L747.8,893.8 L748.2,896.7 L748.6,899.7 L748.9,902.7 L749.3,905.7 L749.7,908.6 L750.1,911.6 L750.5,914.6 L750.8,917.6 L751.2,920.5 L751.6,923.5 L752.0,926.5 L752.3,929.5 L752.7,932.4 L753.1,935.4 L753.5,938.4 L753.8,941.4 L754.2,944.3 L754.6,947.3 L755.0,950.3 L755.3,953.3 L755.7,956.2 L756.1,959.2 L756.5,962.2 L756.8,965.2 L757.2,968.1 L757.6,971.1 L758.0,974.1 L758.3,977.1 L758.7,980.1 L759.1,983.0 L759.5,986.0 L759.8,989.0 L760.2,992.0 L760.6,994.9 L761.0,997.9 L761.4,1000.9 L761.7,1003.9 L762.1,1006.9 L762.5,1009.8 L762.9,1012.8 L763.2,1015.8 L763.6,1018.8 L764.0,1021.7 L764.4,1024.7 L764.8,1027.7 L765.1,1030.7 L765.5,1033.7 L765.9,1036.6 L766.3,1039.6 L766.7,1042.6 L767.1,1045.6 L767.4,1048.5 L767.8,1051.5 L768.2,1054.5 L768.6,1057.5 L769.0,1060.5 L769.4,1063.4 L769.8,1066.4 L770.1,1069.4 L770.5,1072.4 L770.9,1075.3 L771.3,1078.3 L771.7,1081.3 L772.1,1084.3 L772.5,1087.3 L772.9,1090.2 L773.3,1093.2 L773.7,1096.2 L774.1,1099.2 L774.5,1102.1 L774.9,1105.1 L775.2,1108.1 L775.6,1111.1 L776.0,1114.0 L776.4,1117.0 L776.8,1120.0 L777.2,1123.0 L777.7,1125.9 L778.1,1128.9 L778.5,1131.9 L778.9,1134.9 L779.3,1137.8 L779.7,1140.8 L780.1,1143.8 L780.5,1146.7 L780.9,1149.7 L781.3,1152.7 L781.7,1155.7 L782.1,1158.6 L782.6,1161.6 L783.0,1164.6 L783.4,1167.5 L783.8,1170.5 L784.2,1173.5 L784.7,1176.5 L785.1,1179.4 L785.5,1182.4 L785.9,1185.4 L786.4,1188.3 L786.8,1191.3 L787.2,1194.3 L787.6,1197.2 L788.1,1200.2 L788.5,1203.2 L788.9,1206.1 L789.4,1209.1 L789.8,1212.1 L790.3,1215.0 L790.7,1218.0 L791.1,1221.0 L791.6,1223.9 L792.0,1226.9 L792.5,1229.8 L792.9,1232.8 L793.4,1235.8 L793.8,1238.7 L794.3,1241.7 L794.7,1244.6 L795.2,1247.6 L795.6,1250.6 L796.1,1253.5 L796.6,1256.5 L797.0,1259.4 L797.5,1262.4 L797.9,1265.4 L798.4,1268.3 L798.9,1271.3 L799.3,1274.2 L799.8,1277.2 L800.3,1280.1 L800.8,1283.1 L801.2,1286.0 L801.7,1289.0 L802.2,1291.9 L802.7,1294.9 L803.2,1297.8 L803.7,1300.8 L804.2,1303.7 L804.7,1306.7 L805.2,1309.6 L805.7,1312.6 L806.2,1315.5 L806.7,1318.5 L807.2,1321.4 L807.7,1324.4 L808.2,1327.3 L808.7,1330.2 L809.2,1333.2 L809.8,1336.1 L810.3,1339.1 L810.8,1342.0 L811.4,1344.9 L811.9,1347.9 L812.5,1350.8 L813.0,1353.8 L813.6,1356.7 L814.1,1359.6 L814.7,1362.6 L815.2,1365.5 L815.8,1368.4 L816.4,1371.4 L817.0,1374.3 L817.6,1377.2 L818.2,1380.2 L818.8,1383.1 L819.4,1386.0 L820.0,1389.0 L820.6,1391.9 L821.2,1394.8 L821.8,1397.7 L822.5,1400.7 L823.1,1403.6 L823.7,1406.5 L824.4,1409.4 L825.0,1412.4 L825.7,1415.3 L826.4,1418.2 L827.0,1421.1 L827.7,1424.0 L828.4,1427.0 L829.1,1429.9 L829.8,1432.8 L830.5,1435.7 L831.2,1438.6 L831.9,1441.5 L832.7,1444.4 L833.4,1447.4 L834.1,1450.3 L834.9,1453.2 L835.6,1456.1 L836.4,1459.0 L837.2,1461.9 L838.0,1464.8 L838.8,1467.7 L839.6,1470.6 L840.4,1473.5 L841.2,1476.4 L842.0,1479.3 L842.8,1482.2 L843.7,1485.1 L844.5,1488.0 L845.4,1490.9 L846.2,1493.8 L847.1,1496.7 L848.0,1499.6 L848.9,1502.5 L849.8,1505.4 L850.7,1508.3 L851.7,1511.2 L852.6,1514.0 L853.6,1516.9 L854.6,1519.8 L855.6,1522.6 L856.6,1525.4 L857.6,1528.3 L858.7,1531.1 L859.8,1533.9 L860.9,1536.7 L862.1,1539.4 L863.2,1542.2 L864.4,1544.9 L865.7,1547.7 L866.9,1550.4 L868.2,1553.0 L869.5,1555.7 L870.9,1558.3 L872.3,1561.0 L873.7,1563.6 L875.2,1566.1 L876.7,1568.7 L878.3,1571.2 L879.9,1573.7 L881.5,1576.1 L883.2,1578.5 L884.9,1580.9 L886.7,1583.3 L888.5,1585.6 L890.4,1587.9 L892.3,1590.2 L894.3,1592.4 L896.3,1594.6 L898.4,1596.8 L900.6,1598.9 L902.8,1601.0 L905.0,1603.0 L907.3,1605.0 L909.7,1606.9 L912.1,1608.7 L914.5,1610.5 L917.0,1612.2 L919.5,1613.9 L922.1,1615.4 L924.7,1616.9 L927.4,1618.3 L930.1,1619.6 L932.8,1620.8 L935.6,1621.9 L938.4,1622.9 L941.2,1623.8 L944.1,1624.5 L947.0,1625.2 L949.9,1625.7 L952.8,1626.1 L955.8,1626.5 L958.8,1626.8 L961.8,1627.0 L964.8,1627.1 L967.8,1627.3 L970.8,1627.4 L973.9,1627.4 L976.9,1627.5 L979.9,1627.6 L982.9,1627.7 L986.0,1627.7 L989.0,1627.8 L992.0,1627.8 L995.0,1627.9 L998.0,1627.9 L1001.1,1628.0 L1004.1,1628.0 L1007.1,1628.0 L1010.1,1628.1 L1013.1,1628.1 L1016.1,1628.1 L1019.1,1628.1 L1022.1,1628.1 L1025.1,1628.2 L1028.2,1628.2 L1031.2,1628.2 L1034.2,1628.2 L1037.2,1628.2 L1040.2,1628.2 L1043.2,1628.2 L1046.2,1628.1 L1049.2,1628.1 L1052.2,1628.1 L1055.2,1628.1 L1058.2,1628.1 L1061.2,1628.1 L1064.2,1628.0 L1067.2,1628.0 L1070.2,1628.0 L1073.2,1627.9 L1076.2,1627.9 L1079.2,1627.9 L1082.2,1627.8 L1085.1,1627.8 L1088.1,1627.8 L1091.1,1627.7 L1094.1,1627.7 L1097.1,1627.6 L1100.1,1627.6 L1103.1,1627.5 L1106.1,1627.5 L1109.1,1627.4 L1112.1,1627.4 L1115.1,1627.3 L1118.1,1627.3 L1121.0,1627.2 L1124.0,1627.2 L1127.0,1627.1 L1130.0,1627.1 L1133.0,1627.0 L1136.0,1627.0 L1139.0,1626.9 L1142.0,1626.9 L1145.0,1626.8 L1147.9,1626.7 L1150.9,1626.7 L1153.9,1626.6 L1156.9,1626.6 L1159.9,1626.5 L1162.9,1626.5 L1165.9,1626.4 L1168.9,1626.4 L1171.9,1626.3 L1174.8,1626.3 L1177.8,1626.2 L1180.8,1626.2 L1183.8,1626.1 L1186.8,1626.1 L1189.8,1626.0 L1192.8,1626.0 L1195.8,1626.0 L1198.8,1625.9 L1201.8,1625.9 L1204.8,1625.9 L1207.7,1625.8 L1210.7,1625.8 L1213.7,1625.7 L1216.7,1625.7 L1219.7,1625.7 L1222.7,1625.7 L1225.7,1625.6 L1228.7,1625.6 L1231.7,1625.6 L1234.7,1625.6 L1237.7,1625.5 L1240.7,1625.5 L1243.7,1625.5 L1246.7,1625.5 L1249.7,1625.5 L1252.7,1625.5 L1255.7,1625.4 L1258.7,1625.4 L1261.7,1625.4 L1264.7,1625.4 L1267.7,1625.4 L1270.7,1625.4 L1273.7,1625.4 L1276.7,1625.4 L1279.7,1625.4 L1282.7,1625.4 L1285.6,1625.4 L1288.6,1625.4 L1291.6,1625.4 L1294.6,1625.4 L1297.6,1625.4 L1300.6,1625.4 L1303.6,1625.4 L1306.6,1625.4 L1309.6,1625.5 L1312.6,1625.5 L1315.6,1625.5 L1318.6,1625.5 L1321.6,1625.5 L1324.6,1625.6 L1327.6,1625.6 L1330.6,1625.6 L1333.6,1625.6 L1336.7,1625.6 L1339.7,1625.7 L1342.7,1625.7 L1345.7,1625.7 L1348.7,1625.8 L1351.7,1625.8 L1354.7,1625.8 L1357.7,1625.9 L1360.7,1625.9 L1363.7,1626.0 L1366.7,1626.0 L1369.7,1626.0 L1372.7,1626.1 L1375.7,1626.1 L1378.7,1626.2 L1381.7,1626.2 L1384.7,1626.3 L1387.7,1626.3 L1390.7,1626.4 L1393.7,1626.4 L1396.7,1626.5 L1399.7,1626.6 L1402.7,1626.6 L1405.7,1626.7 L1408.7,1626.8 L1411.7,1626.8 L1414.7,1626.9 L1417.7,1627.0 L1420.7,1627.0 L1423.7,1627.1 L1426.7,1627.2 L1429.7,1627.2 L1432.7,1627.3 L1435.7,1627.4 L1438.7,1627.5 L1441.7,1627.6 L1444.7,1627.6 L1447.7,1627.7 L1450.7,1627.8 L1453.7,1627.9 L1456.7,1628.0 L1459.7,1628.1 L1462.7,1628.2 L1465.7,1628.3 L1468.7,1628.4 L1471.7,1628.5 L1474.7,1628.6 L1477.7,1628.7 L1480.7,1628.8 L1483.7,1628.9 L1486.7,1629.0 L1489.7,1629.1 L1492.7,1629.2 L1495.7,1629.3 L1498.7,1629.4 L1501.7,1629.5 L1504.7,1629.6 L1507.7,1629.7 L1510.7,1629.9 L1513.7,1630.0 L1516.7,1630.1 L1519.7,1630.2 L1522.7,1630.4 L1525.7,1630.5 L1528.7,1630.6 L1531.7,1630.7 L1534.7,1630.9 L1537.7,1631.0 L1540.7,1631.1 L1543.7,1631.2 L1546.7,1631.4 L1549.7,1631.5 L1552.7,1631.6 L1555.7,1631.8 L1558.6,1631.9 L1561.6,1632.0 L1564.6,1632.2 L1567.6,1632.3 L1570.6,1632.4 L1573.6,1632.6 L1576.6,1632.7 L1579.6,1632.8 L1582.6,1633.0 L1585.6,1633.1 L1588.6,1633.2 L1591.6,1633.4 L1594.6,1633.5 L1597.6,1633.6 L1600.6,1633.8 L1603.6,1633.9 L1606.6,1634.0 L1609.6,1634.1 L1612.6,1634.3 L1615.5,1634.4 L1618.5,1634.5 L1621.5,1634.6 L1624.5,1634.7 L1627.5,1634.9 L1630.5,1635.0 L1633.5,1635.1 L1636.5,1635.2 L1639.5,1635.3 L1642.5,1635.4 L1645.5,1635.5 L1648.5,1635.6 L1651.5,1635.7 L1654.5,1635.8 L1657.5,1635.9 L1660.5,1636.0 L1663.5,1636.1 L1666.4,1636.2 L1669.4,1636.3 L1672.4,1636.3 L1675.4,1636.4 L1678.4,1636.5 L1681.4,1636.6 L1684.4,1636.6 L1687.4,1636.7 L1690.4,1636.8 L1693.4,1636.8 L1696.4,1636.9 L1699.4,1636.9 L1702.4,1637.0 L1705.4,1637.0 L1708.4,1637.1 L1711.4,1637.1 L1714.4,1637.1 L1717.4,1637.2 L1720.4,1637.2 L1723.4,1637.2 L1726.4,1637.2 L1729.3,1637.2 L1732.3,1637.2 L1735.3,1637.2 L1738.3,1637.2 L1741.3,1637.2 L1744.3,1637.2 L1747.3,1637.2 L1750.3,1637.2 L1753.3,1637.2 L1756.3,1637.2 L1759.3,1637.1 L1762.3,1637.1 L1765.3,1637.1 L1768.3,1637.1 L1771.3,1637.0 L1774.3,1637.0 L1777.3,1636.9 L1780.3,1636.9 L1783.3,1636.9 L1786.3,1636.8 L1789.3,1636.8 L1792.3,1636.7 L1795.3,1636.7 L1798.3,1636.6 L1801.3,1636.6 L1804.3,1636.5 L1807.3,1636.5 L1810.3,1636.4 L1813.3,1636.4 L1816.3,1636.3 L1819.3,1636.2 L1822.3,1636.2 L1825.3,1636.1 L1828.3,1636.1 L1831.3,1636.0 L1834.3,1636.0 L1837.3,1635.9 L1840.3,1635.8 L1843.3,1635.8 L1846.3,1635.7 L1849.3,1635.7 L1852.3,1635.6 L1855.2,1635.6 L1858.2,1635.5 L1861.2,1635.5 L1864.2,1635.4 L1867.2,1635.4 L1870.2,1635.3 L1873.2,1635.3 L1876.2,1635.2 L1879.2,1635.2 L1882.2,1635.1 L1885.2,1635.1 L1888.2,1635.0 L1891.2,1635.0 L1894.2,1634.9 L1897.2,1634.9 L1900.2,1634.8 L1903.2,1634.8 L1906.2,1634.8 L1909.2,1634.7 L1912.2,1634.7 L1915.2,1634.6 L1918.2,1634.6 L1921.2,1634.6 L1924.2,1634.5 L1927.2,1634.5 L1930.2,1634.5 L1933.2,1634.4 L1936.2,1634.4 L1939.2,1634.3 L1942.2,1634.3 L1945.2,1634.3 L1948.2,1634.2 L1951.2,1634.2 L1954.2,1634.2 L1957.2,1634.2 L1960.2,1634.1 L1963.2,1634.1 L1966.2,1634.1 L1969.2,1634.0 L1972.2,1634.0 L1975.2,1634.0 L1978.2,1634.0 L1981.2,1633.9 L1984.2,1633.9 L1987.2,1633.9 L1990.2,1633.9 L1993.2,1633.8 L1996.2,1633.8 L1999.2,1633.8 L2002.2,1633.8 L2005.2,1633.7 L2008.2,1633.7 L2011.1,1633.7 L2014.1,1633.7 L2017.1,1633.6 L2020.1,1633.6 L2023.1,1633.6 L2026.1,1633.6 L2029.1,1633.6 L2032.1,1633.5 L2035.1,1633.5 L2038.1,1633.5 L2041.1,1633.5 L2044.1,1633.5 L2047.1,1633.5 L2050.1,1633.4 L2053.1,1633.4 L2056.1,1633.4 L2059.1,1633.4 L2062.1,1633.4 L2065.1,1633.4 L2068.1,1633.3 L2071.1,1633.3 L2074.1,1633.3 L2077.1,1633.3 L2080.1,1633.3 L2083.1,1633.3 L2086.1,1633.3 L2089.1,1633.2 L2092.1,1633.2 L2095.1,1633.2 L2098.1,1633.2 L2101.1,1633.2 L2104.1,1633.2 L2107.1,1633.2 L2110.1,1633.1 L2113.1,1633.1 L2116.1,1633.1 L2119.1,1633.1 L2122.1,1633.1 L2125.1,1633.1 L2128.1,1633.1 L2131.1,1633.1 L2134.1,1633.0 L2137.1,1633.0 L2140.1,1633.0 L2143.1,1633.0 L2146.1,1633.0 L2149.1,1633.0 L2152.1,1633.0 L2155.1,1633.0 L2158.1,1633.0 L2161.1,1632.9 L2164.1,1632.9 L2167.0,1632.9 L2170.0,1632.9 L2173.0,1632.9 L2176.0,1632.9 L2179.0,1632.9 L2182.0,1632.9 L2185.0,1632.9 L2188.0,1632.8 L2191.0,1632.8 L2194.0,1632.8 L2197.0,1632.8 L2200.0,1632.8 L2203.0,1632.8 L2206.0,1632.8 L2209.0,1632.8 L2212.0,1632.7 L2215.0,1632.7 L2218.0,1632.7 L2221.0,1632.7 L2224.0,1632.7 L2227.0,1632.7 L2230.0,1632.7 L2233.0,1632.7 L2236.0,1632.6 L2239.0,1632.6 L2242.0,1632.6 L2245.0,1632.6 L2248.0,1632.6 L2251.0,1632.6 L2254.0,1632.6 L2257.0,1632.5 L2260.0,1632.5 L2263.0,1632.5 L2266.0,1632.5"/>
<path stroke="#3E2EF0" d="M263.5,510.0 L264.9,507.5 L266.2,504.8 L267.3,502.1 L268.3,499.3 L269.3,496.5 L270.1,493.6 L270.9,490.7 L271.7,487.7 L272.4,484.7 L273.2,481.7 L273.9,478.7 L274.7,475.7 L275.6,472.8 L276.4,469.8 L277.4,466.9 L278.5,464.0 L279.7,461.2 L281.0,458.4 L282.5,455.7 L284.1,453.1 L285.9,450.7 L287.9,448.4 L290.0,446.3 L292.3,444.7 L294.7,443.4 L297.3,442.7 L299.9,442.6 L302.6,443.1 L305.2,444.0 L307.6,445.2 L309.9,446.8 L312.0,448.5 L314.0,450.5 L315.9,452.7 L317.7,455.1 L319.4,457.6 L321.0,460.3 L322.6,463.1 L324.2,465.9 L325.8,468.8 L327.3,471.7 L328.9,474.6 L330.5,477.5 L332.2,480.3 L333.9,483.0 L335.7,485.6 L337.6,488.0 L339.7,490.3 L341.8,492.4 L344.1,494.3 L346.6,496.0 L349.2,497.3 L351.9,498.4 L354.7,499.1 L357.6,499.4 L360.5,499.3 L363.5,498.9 L366.3,498.1 L368.9,496.9 L371.3,495.5 L373.6,493.8 L375.6,491.9 L377.5,489.7 L379.2,487.4 L380.8,484.9 L382.3,482.2 L383.7,479.5 L385.0,476.6 L386.3,473.7 L387.4,470.7 L388.6,467.8 L389.7,464.8 L390.8,461.9 L391.9,459.0 L393.0,456.1 L394.1,453.2 L395.2,450.4 L396.2,447.6 L397.3,444.7 L398.3,441.9 L399.4,439.2 L400.5,436.4 L401.5,433.6 L402.6,430.9 L403.7,428.1 L404.7,425.4 L405.8,422.6 L406.9,419.9 L408.0,417.2 L409.1,414.4 L410.2,411.7 L411.3,409.0 L412.4,406.2 L413.5,403.5 L414.5,400.8 L415.6,398.0 L416.7,395.3 L417.8,392.5 L418.9,389.7 L420.0,387.0 L421.0,384.2 L422.1,381.4 L423.2,378.6 L424.2,375.7 L425.3,372.9 L426.4,370.1 L427.4,367.2 L428.5,364.4 L429.5,361.6 L430.6,358.7 L431.7,355.9 L432.8,353.0 L433.9,350.2 L435.0,347.3 L436.1,344.5 L437.2,341.7 L438.4,338.9 L439.5,336.0 L440.7,333.2 L441.9,330.4 L443.1,327.6 L444.3,324.9 L445.5,322.1 L446.8,319.4 L448.1,316.6 L449.4,313.9 L450.8,311.2 L452.1,308.6 L453.5,305.9 L455.0,303.3 L456.4,300.7 L457.9,298.1 L459.4,295.5 L461.0,293.0 L462.6,290.5 L464.2,288.0 L465.9,285.6 L467.6,283.1 L469.3,280.8 L471.1,278.4 L472.9,276.1 L474.8,273.8 L476.7,271.6 L478.7,269.4 L480.7,267.2 L482.8,265.1 L484.9,263.0 L487.1,260.9 L489.3,258.9 L491.6,257.0 L493.9,255.1 L496.3,253.2 L498.7,251.5 L501.2,249.7 L503.7,248.1 L506.2,246.5 L508.8,245.0 L511.5,243.6 L514.2,242.3 L516.9,241.1 L519.7,240.0 L522.5,239.0 L525.3,238.1 L528.2,237.3 L531.1,236.7 L534.0,236.2 L537.0,235.8 L540.0,235.5 L543.0,235.4 L546.0,235.4 L549.1,235.5 L552.1,235.8 L555.2,236.1 L558.3,236.4 L561.3,236.8 L564.4,237.3 L567.4,237.7 L570.5,238.1 L573.4,238.5 L576.4,238.9 L579.3,239.2 L582.3,239.4 L585.2,239.7 L588.1,240.0 L591.0,240.3 L593.9,240.6 L596.9,241.0 L599.8,241.5 L602.8,242.0 L605.8,242.6 L608.7,243.3 L611.7,244.1 L614.6,244.9 L617.4,245.9 L620.3,247.0 L623.0,248.2 L625.7,249.6 L628.3,251.0 L630.8,252.6 L633.3,254.3 L635.7,256.1 L638.0,258.1 L640.2,260.1 L642.4,262.1 L644.6,264.2 L646.6,266.4 L648.6,268.6 L650.6,270.9 L652.5,273.2 L654.4,275.6 L656.2,278.0 L657.9,280.4 L659.6,282.9 L661.3,285.4 L662.9,287.9 L664.5,290.5 L666.0,293.0 L667.5,295.7 L668.9,298.3 L670.3,301.0 L671.7,303.7 L673.0,306.4 L674.3,309.1 L675.5,311.9 L676.7,314.6 L677.9,317.4 L679.1,320.2 L680.2,323.0 L681.3,325.8 L682.3,328.6 L683.4,331.4 L684.4,334.3 L685.3,337.1 L686.3,339.9 L687.2,342.8 L688.1,345.6 L689.0,348.5 L689.9,351.4 L690.7,354.2 L691.5,357.1 L692.4,360.0 L693.2,362.9 L693.9,365.8 L694.7,368.7 L695.5,371.6 L696.2,374.5 L696.9,377.4 L697.7,380.3 L698.4,383.2 L699.1,386.1 L699.8,389.0 L700.5,391.9 L701.2,394.9 L701.9,397.8 L702.6,400.7 L703.3,403.6 L704.0,406.5 L704.7,409.4 L705.4,412.3 L706.1,415.3 L706.9,418.2 L707.6,421.1 L708.3,424.0 L709.1,426.9 L709.8,429.8 L710.6,432.7 L711.3,435.6 L712.1,438.5 L712.9,441.4 L713.7,444.3 L714.5,447.2 L715.2,450.1 L716.0,453.0 L716.8,455.9 L717.6,458.7 L718.4,461.6 L719.2,464.5 L720.0,467.4 L720.8,470.3 L721.6,473.2 L722.4,476.1 L723.1,479.0 L723.9,481.9 L724.7,484.8 L725.4,487.7 L726.2,490.6 L726.9,493.5 L727.6,496.4 L728.4,499.3 L729.1,502.2 L729.8,505.1 L730.5,508.1 L731.2,511.0 L731.9,513.9 L732.6,516.8 L733.3,519.7 L734.0,522.6 L734.6,525.6 L735.3,528.5 L736.0,531.4 L736.6,534.3 L737.3,537.3 L737.9,540.2 L738.6,543.1 L739.2,546.0 L739.8,549.0 L740.5,551.9 L741.1,554.8 L741.7,557.8 L742.3,560.7 L742.9,563.7 L743.5,566.6 L744.1,569.5 L744.7,572.5 L745.3,575.4 L745.9,578.3 L746.5,581.3 L747.1,584.2 L747.7,587.2 L748.3,590.1 L748.8,593.1 L749.4,596.0 L750.0,599.0 L750.5,601.9 L751.1,604.8 L751.7,607.8 L752.2,610.7 L752.8,613.7 L753.3,616.6 L753.9,619.6 L754.4,622.5 L754.9,625.5 L755.5,628.4 L756.0,631.4 L756.6,634.3 L757.1,637.3 L757.6,640.2 L758.2,643.2 L758.7,646.1 L759.2,649.1 L759.7,652.0 L760.3,655.0 L760.8,658.0 L761.3,660.9 L761.8,663.9 L762.3,666.8 L762.8,669.8 L763.3,672.7 L763.8,675.7 L764.3,678.6 L764.8,681.6 L765.3,684.6 L765.8,687.5 L766.3,690.5 L766.8,693.4 L767.3,696.4 L767.8,699.3 L768.3,702.3 L768.8,705.3 L769.3,708.2 L769.7,711.2 L770.2,714.1 L770.7,717.1 L771.2,720.1 L771.7,723.0 L772.1,726.0 L772.6,728.9 L773.1,731.9 L773.5,734.9 L774.0,737.8 L774.5,740.8 L774.9,743.8 L775.4,746.7 L775.9,749.7 L776.3,752.6 L776.8,755.6 L777.2,758.6 L777.7,761.5 L778.1,764.5 L778.6,767.5 L779.0,770.4 L779.5,773.4 L779.9,776.4 L780.4,779.3 L780.8,782.3 L781.3,785.2 L781.7,788.2 L782.2,791.2 L782.6,794.1 L783.0,797.1 L783.5,800.1 L783.9,803.0 L784.3,806.0 L784.8,809.0 L785.2,811.9 L785.6,814.9 L786.1,817.9 L786.5,820.9 L786.9,823.8 L787.4,826.8 L787.8,829.8 L788.2,832.7 L788.6,835.7 L789.1,838.7 L789.5,841.6 L789.9,844.6 L790.3,847.6 L790.8,850.5 L791.2,853.5 L791.6,856.5 L792.0,859.5 L792.4,862.4 L792.9,865.4 L793.3,868.4 L793.7,871.3 L794.1,874.3 L794.5,877.3 L794.9,880.2 L795.4,883.2 L795.8,886.2 L796.2,889.2 L796.6,892.1 L797.0,895.1 L797.4,898.1 L797.8,901.0 L798.2,904.0 L798.6,907.0 L799.1,910.0 L799.5,912.9 L799.9,915.9 L800.3,918.9 L800.7,921.8 L801.1,924.8 L801.5,927.8 L801.9,930.8 L802.3,933.7 L802.7,936.7 L803.1,939.7 L803.5,942.6 L803.9,945.6 L804.3,948.6 L804.7,951.6 L805.1,954.5 L805.5,957.5 L805.9,960.5 L806.3,963.5 L806.7,966.4 L807.1,969.4 L807.5,972.4 L807.9,975.3 L808.3,978.3 L808.7,981.3 L809.1,984.3 L809.5,987.2 L809.9,990.2 L810.3,993.2 L810.7,996.2 L811.1,999.1 L811.5,1002.1 L811.9,1005.1 L812.3,1008.1 L812.7,1011.0 L813.1,1014.0 L813.5,1017.0 L813.9,1019.9 L814.3,1022.9 L814.7,1025.9 L815.1,1028.9 L815.5,1031.8 L815.9,1034.8 L816.3,1037.8 L816.7,1040.8 L817.1,1043.7 L817.5,1046.7 L817.9,1049.7 L818.3,1052.6 L818.7,1055.6 L819.1,1058.6 L819.5,1061.6 L819.9,1064.5 L820.3,1067.5 L820.7,1070.5 L821.1,1073.5 L821.5,1076.4 L821.9,1079.4 L822.3,1082.4 L822.7,1085.3 L823.1,1088.3 L823.5,1091.3 L823.9,1094.3 L824.3,1097.2 L824.7,1100.2 L825.1,1103.2 L825.5,1106.2 L825.9,1109.1 L826.3,1112.1 L826.7,1115.1 L827.1,1118.0 L827.5,1121.0 L827.9,1124.0 L828.4,1127.0 L828.8,1129.9 L829.2,1132.9 L829.6,1135.9 L830.0,1138.8 L830.4,1141.8 L830.8,1144.8 L831.2,1147.8 L831.6,1150.7 L832.0,1153.7 L832.4,1156.7 L832.8,1159.6 L833.2,1162.6 L833.7,1165.6 L834.1,1168.5 L834.5,1171.5 L834.9,1174.5 L835.3,1177.5 L835.7,1180.4 L836.1,1183.4 L836.5,1186.4 L837.0,1189.3 L837.4,1192.3 L837.8,1195.3 L838.2,1198.2 L838.6,1201.2 L839.1,1204.2 L839.5,1207.1 L839.9,1210.1 L840.3,1213.1 L840.7,1216.0 L841.2,1219.0 L841.6,1222.0 L842.0,1225.0 L842.4,1227.9 L842.9,1230.9 L843.3,1233.9 L843.7,1236.8 L844.1,1239.8 L844.6,1242.8 L845.0,1245.7 L845.4,1248.7 L845.9,1251.7 L846.3,1254.6 L846.8,1257.6 L847.2,1260.5 L847.6,1263.5 L848.1,1266.5 L848.5,1269.4 L849.0,1272.4 L849.4,1275.4 L849.9,1278.3 L850.3,1281.3 L850.8,1284.3 L851.2,1287.2 L851.7,1290.2 L852.1,1293.2 L852.6,1296.1 L853.0,1299.1 L853.5,1302.0 L854.0,1305.0 L854.4,1308.0 L854.9,1310.9 L855.4,1313.9 L855.8,1316.9 L856.3,1319.8 L856.8,1322.8 L857.3,1325.7 L857.8,1328.7 L858.2,1331.7 L858.7,1334.6 L859.2,1337.6 L859.7,1340.5 L860.2,1343.5 L860.7,1346.5 L861.2,1349.4 L861.7,1352.4 L862.2,1355.3 L862.7,1358.3 L863.2,1361.3 L863.7,1364.2 L864.2,1367.2 L864.7,1370.1 L865.3,1373.1 L865.8,1376.1 L866.3,1379.0 L866.8,1382.0 L867.4,1384.9 L867.9,1387.9 L868.4,1390.8 L869.0,1393.8 L869.5,1396.8 L870.1,1399.7 L870.6,1402.7 L871.2,1405.6 L871.8,1408.6 L872.4,1411.5 L872.9,1414.5 L873.5,1417.4 L874.1,1420.3 L874.8,1423.3 L875.4,1426.2 L876.0,1429.2 L876.6,1432.1 L877.3,1435.0 L878.0,1437.9 L878.6,1440.9 L879.3,1443.8 L880.0,1446.7 L880.7,1449.6 L881.5,1452.5 L882.2,1455.4 L883.0,1458.3 L883.8,1461.2 L884.5,1464.1 L885.4,1466.9 L886.2,1469.8 L887.0,1472.7 L887.9,1475.6 L888.8,1478.4 L889.7,1481.3 L890.6,1484.1 L891.5,1486.9 L892.5,1489.8 L893.4,1492.6 L894.4,1495.4 L895.4,1498.2 L896.5,1501.0 L897.5,1503.8 L898.6,1506.6 L899.7,1509.4 L900.8,1512.2 L901.9,1515.0 L903.0,1517.7 L904.2,1520.5 L905.3,1523.3 L906.5,1526.0 L907.7,1528.8 L908.9,1531.6 L910.1,1534.3 L911.3,1537.1 L912.5,1539.8 L913.8,1542.6 L915.0,1545.3 L916.3,1548.0 L917.5,1550.8 L918.8,1553.5 L920.1,1556.2 L921.4,1559.0 L922.7,1561.7 L924.1,1564.4 L925.5,1567.0 L927.0,1569.6 L928.5,1572.2 L930.1,1574.6 L931.8,1577.1 L933.6,1579.4 L935.6,1581.6 L937.6,1583.8 L939.7,1585.9 L941.9,1587.9 L944.1,1590.0 L946.3,1591.9 L948.6,1593.9 L951.0,1595.8 L953.3,1597.6 L955.7,1599.5 L958.2,1601.2 L960.7,1603.0 L963.2,1604.6 L965.7,1606.3 L968.3,1607.9 L970.9,1609.4 L973.5,1610.9 L976.2,1612.3 L978.8,1613.6 L981.5,1614.9 L984.3,1616.2 L987.0,1617.3 L989.8,1618.5 L992.6,1619.5 L995.4,1620.5 L998.3,1621.4 L1001.1,1622.2 L1004.0,1622.9 L1006.9,1623.6 L1009.8,1624.2 L1012.7,1624.8 L1015.6,1625.3 L1018.6,1625.8 L1021.5,1626.2 L1024.5,1626.5 L1027.5,1626.8 L1030.4,1627.1 L1033.4,1627.4 L1036.4,1627.6 L1039.4,1627.8 L1042.4,1628.0 L1045.4,1628.1 L1048.4,1628.3 L1051.4,1628.4 L1054.4,1628.6 L1057.4,1628.7 L1060.5,1628.9 L1063.5,1629.0 L1066.5,1629.1 L1069.5,1629.3 L1072.5,1629.4 L1075.5,1629.5 L1078.5,1629.6 L1081.5,1629.8 L1084.5,1629.9 L1087.5,1630.0 L1090.5,1630.1 L1093.5,1630.2 L1096.5,1630.3 L1099.5,1630.4 L1102.5,1630.5 L1105.5,1630.6 L1108.5,1630.7 L1111.5,1630.8 L1114.5,1630.9 L1117.5,1631.0 L1120.5,1631.1 L1123.5,1631.2 L1126.5,1631.3 L1129.5,1631.4 L1132.5,1631.5 L1135.6,1631.6 L1138.6,1631.7 L1141.6,1631.7 L1144.6,1631.8 L1147.6,1631.9 L1150.6,1632.0 L1153.6,1632.0 L1156.6,1632.1 L1159.6,1632.2 L1162.6,1632.3 L1165.6,1632.3 L1168.6,1632.4 L1171.6,1632.5 L1174.6,1632.5 L1177.6,1632.6 L1180.6,1632.6 L1183.6,1632.7 L1186.5,1632.8 L1189.5,1632.8 L1192.5,1632.9 L1195.5,1632.9 L1198.5,1633.0 L1201.5,1633.0 L1204.5,1633.1 L1207.5,1633.1 L1210.5,1633.2 L1213.5,1633.2 L1216.5,1633.3 L1219.5,1633.3 L1222.5,1633.3 L1225.5,1633.4 L1228.5,1633.4 L1231.5,1633.5 L1234.5,1633.5 L1237.5,1633.5 L1240.5,1633.6 L1243.5,1633.6 L1246.5,1633.7 L1249.5,1633.7 L1252.5,1633.7 L1255.5,1633.8 L1258.5,1633.8 L1261.5,1633.8 L1264.5,1633.9 L1267.5,1633.9 L1270.5,1633.9 L1273.5,1633.9 L1276.5,1634.0 L1279.5,1634.0 L1282.5,1634.0 L1285.5,1634.1 L1288.5,1634.1 L1291.5,1634.1 L1294.5,1634.1 L1297.4,1634.2 L1300.4,1634.2 L1303.4,1634.2 L1306.4,1634.2 L1309.4,1634.3 L1312.4,1634.3 L1315.4,1634.3 L1318.4,1634.3 L1321.4,1634.3 L1324.4,1634.4 L1327.4,1634.4 L1330.4,1634.4 L1333.4,1634.4 L1336.4,1634.5 L1339.4,1634.5 L1342.4,1634.5 L1345.4,1634.5 L1348.4,1634.5 L1351.4,1634.6 L1354.4,1634.6 L1357.4,1634.6 L1360.4,1634.6 L1363.4,1634.7 L1366.4,1634.7 L1369.4,1634.7 L1372.4,1634.7 L1375.4,1634.8 L1378.4,1634.8 L1381.4,1634.8 L1384.4,1634.8 L1387.4,1634.8 L1390.4,1634.9 L1393.4,1634.9 L1396.4,1634.9 L1399.4,1635.0 L1402.4,1635.0 L1405.4,1635.0 L1408.4,1635.0 L1411.4,1635.1 L1414.4,1635.1 L1417.4,1635.1 L1420.4,1635.2 L1423.4,1635.2 L1426.4,1635.2 L1429.4,1635.2 L1432.4,1635.3 L1435.4,1635.3 L1438.4,1635.3 L1441.4,1635.4 L1444.4,1635.4 L1447.4,1635.5 L1450.4,1635.5 L1453.4,1635.5 L1456.4,1635.6 L1459.4,1635.6 L1462.4,1635.7 L1465.4,1635.7 L1468.4,1635.7 L1471.4,1635.8 L1474.4,1635.8 L1477.4,1635.9 L1480.4,1635.9 L1483.4,1636.0 L1486.4,1636.0 L1489.4,1636.1 L1492.4,1636.1 L1495.4,1636.2 L1498.4,1636.2 L1501.4,1636.3 L1504.4,1636.3 L1507.4,1636.4 L1510.4,1636.4 L1513.4,1636.5 L1516.4,1636.6 L1519.4,1636.6 L1522.4,1636.7 L1525.4,1636.7 L1528.4,1636.8 L1531.4,1636.9 L1534.4,1636.9 L1537.4,1637.0 L1540.4,1637.1 L1543.4,1637.1 L1546.4,1637.2 L1549.4,1637.3 L1552.4,1637.4 L1555.4,1637.4 L1558.4,1637.5 L1561.4,1637.6 L1564.4,1637.7 L1567.4,1637.7 L1570.4,1637.8 L1573.4,1637.9 L1576.4,1638.0 L1579.4,1638.0 L1582.3,1638.1 L1585.3,1638.2 L1588.3,1638.3 L1591.3,1638.3 L1594.3,1638.4 L1597.3,1638.5 L1600.3,1638.5 L1603.3,1638.6 L1606.3,1638.7 L1609.3,1638.8 L1612.3,1638.8 L1615.3,1638.9 L1618.3,1639.0 L1621.3,1639.0 L1624.3,1639.1 L1627.3,1639.1 L1630.3,1639.2 L1633.3,1639.3 L1636.3,1639.3 L1639.3,1639.4 L1642.3,1639.4 L1645.3,1639.5 L1648.3,1639.5 L1651.3,1639.6 L1654.3,1639.6 L1657.3,1639.7 L1660.3,1639.7 L1663.3,1639.7 L1666.3,1639.8 L1669.3,1639.8 L1672.3,1639.8 L1675.3,1639.9 L1678.3,1639.9 L1681.3,1639.9 L1684.3,1639.9 L1687.3,1639.9 L1690.3,1640.0 L1693.3,1640.0 L1696.3,1640.0 L1699.3,1640.0 L1702.3,1640.0 L1705.3,1640.0 L1708.3,1640.0 L1711.3,1639.9 L1714.3,1639.9 L1717.3,1639.9 L1720.3,1639.9 L1723.3,1639.8 L1726.3,1639.8 L1729.3,1639.8 L1732.3,1639.7 L1735.2,1639.7 L1738.2,1639.6 L1741.2,1639.6 L1744.2,1639.5 L1747.2,1639.5 L1750.2,1639.4 L1753.2,1639.3 L1756.2,1639.3 L1759.2,1639.2 L1762.2,1639.1 L1765.2,1639.0 L1768.2,1639.0 L1771.2,1638.9 L1774.2,1638.8 L1777.2,1638.7 L1780.2,1638.6 L1783.2,1638.5 L1786.2,1638.4 L1789.2,1638.3 L1792.2,1638.2 L1795.2,1638.1 L1798.2,1638.0 L1801.2,1637.9 L1804.2,1637.8 L1807.2,1637.7 L1810.2,1637.6 L1813.2,1637.5 L1816.2,1637.4 L1819.2,1637.3 L1822.2,1637.2 L1825.2,1637.1 L1828.2,1637.0 L1831.2,1636.9 L1834.2,1636.8 L1837.2,1636.7 L1840.2,1636.6 L1843.2,1636.5 L1846.2,1636.4 L1849.2,1636.3 L1852.2,1636.2 L1855.2,1636.1 L1858.2,1636.0 L1861.2,1635.9 L1864.2,1635.8 L1867.2,1635.7 L1870.2,1635.6 L1873.2,1635.5 L1876.2,1635.4 L1879.2,1635.3 L1882.2,1635.2 L1885.1,1635.1 L1888.1,1635.0 L1891.1,1634.9 L1894.1,1634.8 L1897.1,1634.7 L1900.1,1634.6 L1903.1,1634.5 L1906.1,1634.4 L1909.1,1634.3 L1912.1,1634.3 L1915.1,1634.2 L1918.1,1634.1 L1921.1,1634.0 L1924.1,1633.9 L1927.1,1633.8 L1930.1,1633.8 L1933.1,1633.7 L1936.1,1633.6 L1939.1,1633.5 L1942.1,1633.4 L1945.1,1633.4 L1948.1,1633.3 L1951.1,1633.2 L1954.1,1633.1 L1957.1,1633.1 L1960.1,1633.0 L1963.1,1632.9 L1966.1,1632.8 L1969.1,1632.8 L1972.1,1632.7 L1975.1,1632.6 L1978.1,1632.6 L1981.1,1632.5 L1984.1,1632.4 L1987.1,1632.4 L1990.1,1632.3 L1993.1,1632.2 L1996.1,1632.2 L1999.1,1632.1 L2002.1,1632.1 L2005.1,1632.0 L2008.1,1631.9 L2011.1,1631.9 L2014.1,1631.8 L2017.1,1631.8 L2020.1,1631.7 L2023.1,1631.7 L2026.1,1631.6 L2029.1,1631.6 L2032.1,1631.5 L2035.1,1631.5 L2038.1,1631.4 L2041.1,1631.4 L2044.1,1631.3 L2047.1,1631.3 L2050.1,1631.3 L2053.1,1631.2 L2056.1,1631.2 L2059.1,1631.1 L2062.1,1631.1 L2065.1,1631.1 L2068.1,1631.0 L2071.1,1631.0 L2074.1,1631.0 L2077.1,1630.9 L2080.0,1630.9 L2083.0,1630.9 L2086.0,1630.8 L2089.0,1630.8 L2092.0,1630.8 L2095.0,1630.8 L2098.0,1630.7 L2101.0,1630.7 L2104.0,1630.7 L2107.0,1630.7 L2110.0,1630.6 L2113.0,1630.6 L2116.0,1630.6 L2119.0,1630.6 L2122.0,1630.6 L2125.0,1630.6 L2128.0,1630.5 L2131.0,1630.5 L2134.0,1630.5 L2137.0,1630.5 L2140.0,1630.5 L2143.0,1630.5 L2146.0,1630.5 L2149.0,1630.5 L2152.0,1630.5 L2155.0,1630.5 L2158.0,1630.5 L2161.0,1630.5 L2164.0,1630.5 L2167.0,1630.5 L2170.0,1630.5 L2173.0,1630.5 L2176.0,1630.5 L2179.0,1630.5 L2182.0,1630.5 L2185.0,1630.5 L2188.0,1630.5 L2191.0,1630.5 L2194.0,1630.6 L2197.0,1630.6 L2200.0,1630.6 L2203.0,1630.6 L2206.0,1630.6 L2209.0,1630.7 L2212.0,1630.7 L2215.0,1630.7 L2218.0,1630.7 L2221.0,1630.7 L2224.0,1630.8 L2227.0,1630.8 L2230.0,1630.8 L2233.0,1630.9 L2236.0,1630.9 L2239.0,1630.9 L2242.0,1631.0 L2245.0,1631.0 L2248.0,1631.0 L2251.0,1631.1 L2254.0,1631.1 L2257.0,1631.2 L2260.0,1631.2 L2263.0,1631.3 L2266.0,1631.3"/>
<path stroke="#EC1EE6" d="M263.5,568.0 L264.5,565.3 L265.4,562.5 L266.3,559.7 L267.0,556.8 L267.8,553.9 L268.4,550.9 L269.1,548.0 L269.7,545.0 L270.4,542.0 L271.1,539.0 L271.8,536.0 L272.6,533.0 L273.4,530.1 L274.4,527.1 L275.4,524.2 L276.6,521.3 L277.9,518.5 L279.3,515.7 L280.9,513.1 L282.7,510.6 L284.6,508.4 L286.7,506.5 L288.9,505.2 L291.2,504.3 L293.6,504.1 L296.2,504.5 L298.8,505.5 L301.4,507.0 L304.0,508.8 L306.4,510.8 L308.6,512.9 L310.7,515.0 L312.7,517.3 L314.6,519.6 L316.3,522.0 L318.0,524.5 L319.6,527.0 L321.2,529.6 L322.7,532.2 L324.1,534.9 L325.6,537.6 L327.0,540.3 L328.5,543.0 L330.0,545.8 L331.5,548.5 L333.1,551.2 L334.8,553.9 L336.5,556.6 L338.3,559.3 L340.3,561.9 L342.3,564.4 L344.5,566.7 L346.7,568.8 L349.0,570.5 L351.5,571.9 L354.0,572.9 L356.5,573.3 L359.2,573.2 L361.9,572.6 L364.6,571.6 L367.3,570.2 L369.8,568.6 L372.3,566.7 L374.6,564.6 L376.7,562.5 L378.7,560.2 L380.5,557.8 L382.3,555.3 L383.9,552.7 L385.5,550.0 L386.9,547.3 L388.3,544.6 L389.7,541.8 L391.0,538.9 L392.2,536.1 L393.5,533.3 L394.7,530.5 L395.9,527.7 L397.1,524.9 L398.3,522.1 L399.4,519.3 L400.6,516.5 L401.7,513.8 L402.8,511.0 L403.9,508.2 L405.1,505.4 L406.1,502.6 L407.2,499.9 L408.3,497.1 L409.4,494.3 L410.5,491.5 L411.5,488.7 L412.6,486.0 L413.7,483.2 L414.7,480.4 L415.8,477.6 L416.8,474.8 L417.9,472.1 L419.0,469.3 L420.0,466.5 L421.1,463.7 L422.2,461.0 L423.3,458.2 L424.4,455.4 L425.5,452.6 L426.6,449.9 L427.7,447.1 L428.8,444.4 L430.0,441.6 L431.1,438.9 L432.3,436.1 L433.5,433.4 L434.7,430.7 L435.9,427.9 L437.2,425.2 L438.5,422.5 L439.7,419.8 L441.0,417.1 L442.4,414.4 L443.7,411.7 L445.1,409.1 L446.5,406.4 L447.9,403.7 L449.4,401.1 L450.9,398.4 L452.4,395.8 L453.9,393.2 L455.5,390.5 L457.1,387.9 L458.7,385.4 L460.4,382.8 L462.1,380.3 L463.9,377.8 L465.7,375.3 L467.5,372.9 L469.3,370.5 L471.3,368.1 L473.2,365.8 L475.2,363.6 L477.3,361.4 L479.3,359.2 L481.5,357.2 L483.7,355.2 L485.9,353.2 L488.2,351.4 L490.5,349.6 L492.9,347.9 L495.4,346.3 L497.9,344.8 L500.5,343.3 L503.1,342.0 L505.8,340.8 L508.6,339.6 L511.4,338.6 L514.2,337.7 L517.1,336.9 L520.1,336.2 L523.0,335.6 L526.0,335.2 L529.0,334.8 L532.0,334.5 L535.1,334.4 L538.1,334.3 L541.1,334.4 L544.1,334.6 L547.1,334.9 L550.1,335.2 L553.1,335.5 L556.1,335.8 L559.0,336.0 L562.0,336.2 L565.0,336.4 L567.9,336.4 L570.9,336.4 L573.9,336.4 L576.8,336.4 L579.8,336.3 L582.8,336.2 L585.8,336.1 L588.8,336.0 L591.8,335.9 L594.8,335.9 L597.8,335.8 L600.8,335.8 L603.8,335.8 L606.8,335.8 L609.8,335.9 L612.9,336.1 L615.9,336.3 L619.0,336.6 L622.0,337.0 L625.0,337.5 L628.0,338.1 L630.9,338.7 L633.8,339.5 L636.6,340.4 L639.4,341.5 L642.1,342.6 L644.7,344.0 L647.3,345.4 L649.7,347.1 L652.1,348.8 L654.5,350.7 L656.8,352.6 L659.0,354.6 L661.3,356.6 L663.6,358.6 L665.8,360.5 L668.1,362.5 L670.4,364.5 L672.7,366.5 L675.0,368.4 L677.3,370.4 L679.5,372.4 L681.7,374.5 L683.9,376.5 L686.0,378.6 L688.1,380.8 L690.1,383.0 L692.0,385.3 L693.8,387.6 L695.6,390.0 L697.2,392.5 L698.8,395.0 L700.4,397.6 L701.9,400.2 L703.4,402.8 L704.8,405.4 L706.2,408.1 L707.6,410.7 L709.0,413.4 L710.4,416.0 L711.8,418.7 L713.1,421.4 L714.4,424.1 L715.8,426.8 L717.0,429.5 L718.3,432.2 L719.6,435.0 L720.8,437.7 L722.0,440.4 L723.2,443.2 L724.4,445.9 L725.6,448.7 L726.8,451.4 L727.9,454.2 L729.1,457.0 L730.2,459.8 L731.3,462.6 L732.4,465.3 L733.4,468.1 L734.5,471.0 L735.6,473.8 L736.6,476.6 L737.6,479.4 L738.6,482.2 L739.6,485.0 L740.6,487.9 L741.5,490.7 L742.5,493.6 L743.4,496.4 L744.4,499.2 L745.3,502.1 L746.2,505.0 L747.1,507.8 L748.0,510.7 L748.8,513.5 L749.7,516.4 L750.5,519.3 L751.4,522.2 L752.2,525.0 L753.0,527.9 L753.8,530.8 L754.6,533.7 L755.4,536.6 L756.1,539.5 L756.9,542.4 L757.6,545.3 L758.4,548.2 L759.1,551.1 L759.8,554.0 L760.6,556.9 L761.3,559.8 L762.0,562.7 L762.6,565.6 L763.3,568.5 L764.0,571.4 L764.6,574.4 L765.3,577.3 L765.9,580.2 L766.6,583.1 L767.2,586.1 L767.8,589.0 L768.4,591.9 L769.0,594.9 L769.6,597.8 L770.2,600.8 L770.8,603.7 L771.4,606.6 L772.0,609.6 L772.5,612.5 L773.1,615.5 L773.6,618.4 L774.2,621.4 L774.7,624.3 L775.3,627.3 L775.8,630.2 L776.3,633.2 L776.8,636.1 L777.4,639.1 L777.9,642.0 L778.4,645.0 L778.9,648.0 L779.4,650.9 L779.9,653.9 L780.4,656.8 L780.8,659.8 L781.3,662.8 L781.8,665.7 L782.3,668.7 L782.8,671.7 L783.2,674.6 L783.7,677.6 L784.1,680.6 L784.6,683.5 L785.1,686.5 L785.5,689.5 L786.0,692.4 L786.4,695.4 L786.9,698.4 L787.3,701.3 L787.8,704.3 L788.2,707.3 L788.7,710.2 L789.1,713.2 L789.5,716.2 L790.0,719.1 L790.4,722.1 L790.8,725.1 L791.3,728.0 L791.7,731.0 L792.1,734.0 L792.5,736.9 L793.0,739.9 L793.4,742.9 L793.8,745.8 L794.2,748.8 L794.6,751.8 L795.1,754.7 L795.5,757.7 L795.9,760.7 L796.3,763.6 L796.7,766.6 L797.1,769.6 L797.5,772.5 L797.9,775.5 L798.3,778.5 L798.7,781.5 L799.1,784.4 L799.5,787.4 L799.9,790.4 L800.3,793.3 L800.7,796.3 L801.1,799.3 L801.5,802.2 L801.9,805.2 L802.3,808.2 L802.6,811.2 L803.0,814.1 L803.4,817.1 L803.8,820.1 L804.2,823.0 L804.6,826.0 L804.9,829.0 L805.3,831.9 L805.7,834.9 L806.1,837.9 L806.5,840.9 L806.8,843.8 L807.2,846.8 L807.6,849.8 L808.0,852.7 L808.3,855.7 L808.7,858.7 L809.1,861.7 L809.4,864.6 L809.8,867.6 L810.2,870.6 L810.5,873.6 L810.9,876.5 L811.3,879.5 L811.6,882.5 L812.0,885.4 L812.4,888.4 L812.7,891.4 L813.1,894.4 L813.5,897.3 L813.8,900.3 L814.2,903.3 L814.5,906.3 L814.9,909.2 L815.3,912.2 L815.6,915.2 L816.0,918.2 L816.3,921.1 L816.7,924.1 L817.1,927.1 L817.4,930.1 L817.8,933.0 L818.1,936.0 L818.5,939.0 L818.8,942.0 L819.2,944.9 L819.6,947.9 L819.9,950.9 L820.3,953.9 L820.6,956.8 L821.0,959.8 L821.3,962.8 L821.7,965.8 L822.1,968.7 L822.4,971.7 L822.8,974.7 L823.1,977.7 L823.5,980.7 L823.8,983.6 L824.2,986.6 L824.6,989.6 L824.9,992.6 L825.3,995.5 L825.6,998.5 L826.0,1001.5 L826.3,1004.5 L826.7,1007.5 L827.1,1010.4 L827.4,1013.4 L827.8,1016.4 L828.1,1019.4 L828.5,1022.3 L828.9,1025.3 L829.2,1028.3 L829.6,1031.3 L829.9,1034.3 L830.3,1037.2 L830.7,1040.2 L831.0,1043.2 L831.4,1046.2 L831.8,1049.2 L832.1,1052.1 L832.5,1055.1 L832.9,1058.1 L833.2,1061.1 L833.6,1064.0 L834.0,1067.0 L834.4,1070.0 L834.7,1073.0 L835.1,1076.0 L835.5,1078.9 L835.9,1081.9 L836.2,1084.9 L836.6,1087.9 L837.0,1090.8 L837.4,1093.8 L837.8,1096.8 L838.1,1099.8 L838.5,1102.8 L838.9,1105.7 L839.3,1108.7 L839.7,1111.7 L840.1,1114.7 L840.5,1117.6 L840.9,1120.6 L841.3,1123.6 L841.7,1126.6 L842.1,1129.5 L842.5,1132.5 L842.9,1135.5 L843.3,1138.5 L843.7,1141.4 L844.1,1144.4 L844.5,1147.4 L844.9,1150.3 L845.3,1153.3 L845.7,1156.3 L846.1,1159.3 L846.6,1162.2 L847.0,1165.2 L847.4,1168.2 L847.8,1171.1 L848.3,1174.1 L848.7,1177.1 L849.1,1180.0 L849.5,1183.0 L850.0,1186.0 L850.4,1188.9 L850.9,1191.9 L851.3,1194.9 L851.7,1197.8 L852.2,1200.8 L852.6,1203.8 L853.1,1206.7 L853.5,1209.7 L854.0,1212.7 L854.4,1215.6 L854.9,1218.6 L855.4,1221.6 L855.8,1224.5 L856.3,1227.5 L856.8,1230.4 L857.2,1233.4 L857.7,1236.3 L858.2,1239.3 L858.7,1242.3 L859.2,1245.2 L859.6,1248.2 L860.1,1251.1 L860.6,1254.1 L861.1,1257.0 L861.6,1260.0 L862.1,1262.9 L862.6,1265.9 L863.1,1268.8 L863.6,1271.8 L864.2,1274.7 L864.7,1277.7 L865.2,1280.6 L865.7,1283.6 L866.2,1286.5 L866.8,1289.5 L867.3,1292.4 L867.8,1295.4 L868.4,1298.3 L868.9,1301.3 L869.5,1304.2 L870.0,1307.1 L870.6,1310.1 L871.1,1313.0 L871.7,1316.0 L872.2,1318.9 L872.8,1321.8 L873.4,1324.8 L874.0,1327.7 L874.5,1330.6 L875.1,1333.6 L875.7,1336.5 L876.3,1339.4 L876.9,1342.4 L877.5,1345.3 L878.1,1348.2 L878.7,1351.1 L879.3,1354.1 L880.0,1357.0 L880.6,1359.9 L881.2,1362.8 L881.9,1365.7 L882.6,1368.7 L883.2,1371.6 L883.9,1374.5 L884.6,1377.4 L885.3,1380.3 L886.1,1383.2 L886.8,1386.1 L887.6,1389.0 L888.3,1391.9 L889.1,1394.8 L889.9,1397.7 L890.8,1400.6 L891.6,1403.5 L892.5,1406.4 L893.3,1409.2 L894.2,1412.1 L895.1,1415.0 L896.1,1417.9 L897.0,1420.8 L898.0,1423.6 L899.0,1426.5 L900.0,1429.3 L901.1,1432.2 L902.1,1435.0 L903.2,1437.9 L904.3,1440.7 L905.5,1443.5 L906.7,1446.3 L907.9,1449.1 L909.2,1451.8 L910.5,1454.6 L911.8,1457.3 L913.2,1459.9 L914.6,1462.6 L916.1,1465.2 L917.6,1467.8 L919.1,1470.3 L920.7,1472.8 L922.4,1475.3 L924.1,1477.7 L925.9,1480.1 L927.7,1482.4 L929.6,1484.7 L931.5,1486.9 L933.5,1489.1 L935.5,1491.2 L937.6,1493.3 L939.8,1495.3 L942.1,1497.2 L944.4,1499.1 L946.7,1500.9 L949.1,1502.7 L951.6,1504.4 L954.1,1506.1 L956.6,1507.7 L959.2,1509.3 L961.8,1510.8 L964.4,1512.3 L967.1,1513.7 L969.8,1515.1 L972.5,1516.5 L975.3,1517.8 L978.0,1519.1 L980.8,1520.3 L983.6,1521.5 L986.4,1522.7 L989.1,1523.8 L991.9,1525.0 L994.7,1526.0 L997.5,1527.1 L1000.3,1528.1 L1003.1,1529.1 L1005.9,1530.1 L1008.7,1531.1 L1011.6,1532.0 L1014.4,1532.9 L1017.2,1533.8 L1020.0,1534.6 L1022.9,1535.4 L1025.7,1536.2 L1028.6,1537.0 L1031.5,1537.8 L1034.4,1538.5 L1037.2,1539.2 L1040.1,1539.9 L1043.0,1540.6 L1046.0,1541.3 L1048.9,1542.0 L1051.8,1542.6 L1054.7,1543.2 L1057.6,1543.9 L1060.6,1544.5 L1063.5,1545.1 L1066.4,1545.7 L1069.4,1546.3 L1072.3,1546.9 L1075.2,1547.5 L1078.2,1548.1 L1081.1,1548.7 L1084.0,1549.3 L1086.9,1550.0 L1089.9,1550.6 L1092.8,1551.2 L1095.7,1551.8 L1098.6,1552.4 L1101.6,1553.1 L1104.5,1553.7 L1107.4,1554.3 L1110.3,1554.9 L1113.2,1555.6 L1116.2,1556.2 L1119.1,1556.9 L1122.0,1557.5 L1124.9,1558.1 L1127.8,1558.8 L1130.8,1559.5 L1133.7,1560.1 L1136.6,1560.8 L1139.5,1561.4 L1142.4,1562.1 L1145.3,1562.8 L1148.3,1563.4 L1151.2,1564.1 L1154.1,1564.8 L1157.0,1565.5 L1159.9,1566.1 L1162.9,1566.8 L1165.8,1567.5 L1168.7,1568.2 L1171.6,1568.9 L1174.6,1569.6 L1177.5,1570.3 L1180.4,1571.0 L1183.3,1571.7 L1186.3,1572.3 L1189.2,1573.0 L1192.1,1573.7 L1195.0,1574.4 L1198.0,1575.1 L1200.9,1575.7 L1203.8,1576.4 L1206.8,1577.0 L1209.7,1577.7 L1212.6,1578.3 L1215.6,1579.0 L1218.5,1579.6 L1221.4,1580.2 L1224.4,1580.9 L1227.3,1581.5 L1230.3,1582.1 L1233.2,1582.7 L1236.2,1583.2 L1239.1,1583.8 L1242.1,1584.4 L1245.0,1584.9 L1248.0,1585.4 L1250.9,1586.0 L1253.9,1586.5 L1256.8,1587.0 L1259.8,1587.5 L1262.7,1587.9 L1265.7,1588.4 L1268.7,1588.8 L1271.6,1589.2 L1274.6,1589.6 L1277.6,1590.0 L1280.5,1590.4 L1283.5,1590.8 L1286.5,1591.1 L1289.4,1591.5 L1292.4,1591.8 L1295.4,1592.1 L1298.4,1592.4 L1301.4,1592.7 L1304.3,1593.0 L1307.3,1593.3 L1310.3,1593.5 L1313.3,1593.8 L1316.3,1594.0 L1319.3,1594.3 L1322.2,1594.5 L1325.2,1594.7 L1328.2,1594.9 L1331.2,1595.1 L1334.2,1595.3 L1337.2,1595.5 L1340.2,1595.7 L1343.2,1595.9 L1346.2,1596.1 L1349.2,1596.3 L1352.1,1596.4 L1355.1,1596.6 L1358.1,1596.8 L1361.1,1596.9 L1364.1,1597.1 L1367.1,1597.2 L1370.1,1597.4 L1373.1,1597.6 L1376.1,1597.7 L1379.1,1597.9 L1382.1,1598.0 L1385.1,1598.2 L1388.1,1598.4 L1391.1,1598.5 L1394.1,1598.7 L1397.1,1598.9 L1400.1,1599.0 L1403.1,1599.2 L1406.0,1599.4 L1409.0,1599.5 L1412.0,1599.7 L1415.0,1599.9 L1418.0,1600.0 L1421.0,1600.2 L1424.0,1600.4 L1427.0,1600.5 L1430.0,1600.7 L1433.0,1600.9 L1436.0,1601.1 L1439.0,1601.2 L1442.0,1601.4 L1445.0,1601.6 L1448.0,1601.8 L1451.0,1601.9 L1454.0,1602.1 L1456.9,1602.3 L1459.9,1602.5 L1462.9,1602.6 L1465.9,1602.8 L1468.9,1603.0 L1471.9,1603.2 L1474.9,1603.3 L1477.9,1603.5 L1480.9,1603.7 L1483.9,1603.9 L1486.9,1604.1 L1489.9,1604.2 L1492.9,1604.4 L1495.9,1604.6 L1498.9,1604.8 L1501.8,1604.9 L1504.8,1605.1 L1507.8,1605.3 L1510.8,1605.5 L1513.8,1605.6 L1516.8,1605.8 L1519.8,1606.0 L1522.8,1606.2 L1525.8,1606.4 L1528.8,1606.5 L1531.8,1606.7 L1534.8,1606.9 L1537.8,1607.0 L1540.8,1607.2 L1543.8,1607.4 L1546.7,1607.6 L1549.7,1607.7 L1552.7,1607.9 L1555.7,1608.1 L1558.7,1608.3 L1561.7,1608.4 L1564.7,1608.6 L1567.7,1608.8 L1570.7,1608.9 L1573.7,1609.1 L1576.7,1609.3 L1579.7,1609.4 L1582.7,1609.6 L1585.7,1609.7 L1588.7,1609.9 L1591.6,1610.1 L1594.6,1610.2 L1597.6,1610.4 L1600.6,1610.6 L1603.6,1610.7 L1606.6,1610.9 L1609.6,1611.0 L1612.6,1611.2 L1615.6,1611.3 L1618.6,1611.5 L1621.6,1611.6 L1624.6,1611.8 L1627.6,1611.9 L1630.6,1612.1 L1633.6,1612.2 L1636.5,1612.4 L1639.5,1612.5 L1642.5,1612.6 L1645.5,1612.8 L1648.5,1612.9 L1651.5,1613.1 L1654.5,1613.2 L1657.5,1613.3 L1660.5,1613.5 L1663.5,1613.6 L1666.5,1613.7 L1669.5,1613.9 L1672.5,1614.0 L1675.5,1614.1 L1678.5,1614.2 L1681.5,1614.3 L1684.5,1614.5 L1687.4,1614.6 L1690.4,1614.7 L1693.4,1614.8 L1696.4,1614.9 L1699.4,1615.0 L1702.4,1615.1 L1705.4,1615.3 L1708.4,1615.4 L1711.4,1615.5 L1714.4,1615.6 L1717.4,1615.7 L1720.4,1615.8 L1723.4,1615.8 L1726.4,1615.9 L1729.4,1616.0 L1732.4,1616.1 L1735.4,1616.2 L1738.4,1616.3 L1741.4,1616.4 L1744.4,1616.4 L1747.4,1616.5 L1750.3,1616.6 L1753.3,1616.7 L1756.3,1616.7 L1759.3,1616.8 L1762.3,1616.9 L1765.3,1616.9 L1768.3,1617.0 L1771.3,1617.1 L1774.3,1617.1 L1777.3,1617.2 L1780.3,1617.2 L1783.3,1617.3 L1786.3,1617.4 L1789.3,1617.4 L1792.3,1617.5 L1795.3,1617.5 L1798.3,1617.5 L1801.3,1617.6 L1804.3,1617.6 L1807.3,1617.7 L1810.3,1617.7 L1813.3,1617.8 L1816.3,1617.8 L1819.3,1617.8 L1822.3,1617.9 L1825.3,1617.9 L1828.3,1617.9 L1831.3,1618.0 L1834.3,1618.0 L1837.3,1618.0 L1840.3,1618.1 L1843.3,1618.1 L1846.2,1618.1 L1849.2,1618.1 L1852.2,1618.1 L1855.2,1618.2 L1858.2,1618.2 L1861.2,1618.2 L1864.2,1618.2 L1867.2,1618.2 L1870.2,1618.3 L1873.2,1618.3 L1876.2,1618.3 L1879.2,1618.3 L1882.2,1618.3 L1885.2,1618.3 L1888.2,1618.3 L1891.2,1618.3 L1894.2,1618.3 L1897.2,1618.4 L1900.2,1618.4 L1903.2,1618.4 L1906.2,1618.4 L1909.2,1618.4 L1912.2,1618.4 L1915.2,1618.4 L1918.2,1618.4 L1921.2,1618.4 L1924.2,1618.4 L1927.2,1618.4 L1930.2,1618.4 L1933.2,1618.4 L1936.2,1618.4 L1939.2,1618.4 L1942.2,1618.4 L1945.2,1618.4 L1948.2,1618.4 L1951.2,1618.3 L1954.2,1618.3 L1957.2,1618.3 L1960.2,1618.3 L1963.2,1618.3 L1966.2,1618.3 L1969.2,1618.3 L1972.2,1618.3 L1975.2,1618.3 L1978.2,1618.3 L1981.2,1618.3 L1984.2,1618.3 L1987.2,1618.3 L1990.2,1618.3 L1993.2,1618.2 L1996.2,1618.2 L1999.2,1618.2 L2002.2,1618.2 L2005.2,1618.2 L2008.2,1618.2 L2011.2,1618.2 L2014.2,1618.2 L2017.2,1618.2 L2020.2,1618.2 L2023.2,1618.1 L2026.2,1618.1 L2029.2,1618.1 L2032.1,1618.1 L2035.1,1618.1 L2038.1,1618.1 L2041.1,1618.1 L2044.1,1618.1 L2047.1,1618.1 L2050.1,1618.1 L2053.1,1618.1 L2056.1,1618.0 L2059.1,1618.0 L2062.1,1618.0 L2065.1,1618.0 L2068.1,1618.0 L2071.1,1618.0 L2074.1,1618.0 L2077.1,1618.0 L2080.1,1618.0 L2083.1,1618.0 L2086.1,1618.0 L2089.1,1618.0 L2092.1,1618.0 L2095.1,1618.0 L2098.1,1618.0 L2101.1,1618.0 L2104.1,1618.0 L2107.1,1618.0 L2110.1,1618.0 L2113.1,1618.0 L2116.1,1618.0 L2119.1,1618.0 L2122.1,1618.0 L2125.1,1618.0 L2128.1,1618.0 L2131.1,1618.0 L2134.1,1618.0 L2137.1,1618.0 L2140.1,1618.1 L2143.1,1618.1 L2146.1,1618.1 L2149.1,1618.1 L2152.1,1618.1 L2155.1,1618.1 L2158.1,1618.1 L2161.1,1618.2 L2164.1,1618.2 L2167.1,1618.2 L2170.1,1618.2 L2173.1,1618.2 L2176.1,1618.3 L2179.1,1618.3 L2182.1,1618.3 L2185.1,1618.3 L2188.1,1618.4 L2191.1,1618.4 L2194.1,1618.4 L2197.1,1618.4 L2200.1,1618.5 L2203.1,1618.5 L2206.1,1618.6 L2209.1,1618.6 L2212.1,1618.6 L2215.0,1618.7 L2218.0,1618.7 L2221.0,1618.8 L2224.0,1618.8 L2227.0,1618.8 L2230.0,1618.9 L2233.0,1618.9 L2236.0,1619.0 L2239.0,1619.0 L2242.0,1619.1 L2245.0,1619.2 L2248.0,1619.2 L2251.0,1619.3 L2254.0,1619.3 L2257.0,1619.4 L2260.0,1619.5 L2263.0,1619.5 L2266.0,1619.6"/>
</g>
<rect x="769.9" y="71.0" width="183" height="13.2" fill="#000000"/>
<rect x="769.9" y="190.9" width="183" height="13.2" fill="#E81C06"/>
<rect x="769.9" y="310.8" width="183" height="13.2" fill="#4CF52C"/>
<rect x="769.9" y="430.7" width="183" height="13.2" fill="#3E2EF0"/>
<rect x="769.9" y="550.6" width="183" height="13.2" fill="#EC1EE6"/>
<g fill="#000">
<rect x="247" y="24.1" width="2026" height="7"/>
<rect x="260" y="1660.1" width="2013" height="7"/>
<rect x="260" y="24.2" width="7" height="1642.8999999999999"/>
<rect x="2266" y="24.2" width="7" height="1642.8999999999999"/>
<rect x="260.0" y="1667" width="7" height="29"/>
<rect x="928.7" y="1667" width="7" height="29"/>
<rect x="1597.3" y="1667" width="7" height="29"/>
<rect x="2266.0" y="1667" width="7" height="29"/>
<rect x="594.8" y="1667" width="6" height="13"/>
<rect x="1263.5" y="1667" width="6" height="13"/>
<rect x="1932.2" y="1667" width="6" height="13"/>
<rect x="231" y="1632.0" width="29" height="7"/>
<rect x="231" y="1172.7" width="29" height="7"/>
<rect x="231" y="713.3" width="29" height="7"/>
<rect x="231" y="253.9" width="29" height="7"/>
<rect x="247" y="1402.5" width="13" height="6.6"/>
<rect x="247" y="943.2" width="13" height="6.6"/>
<rect x="247" y="483.8" width="13" height="6.6"/>
</g>
<text transform="translate(115.10,1657.12) scale(0.9438,1)" font-size="71.6">0.0</text>
<text transform="translate(115.05,1197.12) scale(0.9617,1)" font-size="71.6">0.5</text>
<text transform="translate(114.30,738.12) scale(0.9520,1)" font-size="71.6">1.0</text>
<text transform="translate(115.78,277.30) scale(0.9520,1)" font-size="71.6">1.5</text>
<text transform="translate(205.35,1771.92) scale(0.9635,1)" font-size="71.6">200</text>
<text transform="translate(874.53,1772.32) scale(0.9551,1)" font-size="71.6">400</text>
<text transform="translate(1543.48,1771.92) scale(0.9556,1)" font-size="71.6">600</text>
<text transform="translate(2213.38,1772.52) scale(0.9487,1)" font-size="71.6">800</text>
<text transform="translate(952.80,1904.05) scale(0.9922,1)" font-size="85.0">Wavelength [nm]</text>
<text transform="translate(79.16,1072.00) rotate(-90) scale(1.0115,1)" font-size="84.0">Absorbance</text>
<text transform="translate(331.93,127.05) scale(0.9947,1)" font-size="85.0">b)</text>
<text transform="translate(975.92,106.00) scale(0.9800,1)" font-size="84.5">T-TiO<tspan font-size="56.5" dy="22">2</tspan><tspan dy="-22">-NH</tspan><tspan font-size="56.5" dy="22">3</tspan><tspan dy="-22">&#160;(Eg=3.44 eV)</tspan></text>
<text transform="translate(975.92,226.00) scale(0.9831,1)" font-size="84.5">T-TiO<tspan font-size="56.5" dy="22">2</tspan><tspan dy="-22">-NH</tspan><tspan font-size="56.5" dy="22">3</tspan><tspan dy="-22">-FHT-400 (Eg=3.18 eV)</tspan></text>
<text transform="translate(975.92,346.00) scale(0.9831,1)" font-size="84.5">T-TiO<tspan font-size="56.5" dy="22">2</tspan><tspan dy="-22">-NH</tspan><tspan font-size="56.5" dy="22">3</tspan><tspan dy="-22">-FHT-250 (Eg=3.37 eV)</tspan></text>
<text transform="translate(975.92,466.00) scale(0.9800,1)" font-size="84.5">T-TiO<tspan font-size="56.5" dy="22">2</tspan><tspan dy="-22">-NH</tspan><tspan font-size="56.5" dy="22">3</tspan><tspan dy="-22">-MW (Eg=3.22 eV)</tspan></text>
<text transform="translate(975.92,586.00) scale(0.9816,1)" font-size="84.5">T-TiO<tspan font-size="56.5" dy="22">2</tspan><tspan dy="-22">-NH</tspan><tspan font-size="56.5" dy="22">3</tspan><tspan dy="-22">-MW-FHT (Eg=3.19 eV)</tspan></text>
</svg>
</body></html>
